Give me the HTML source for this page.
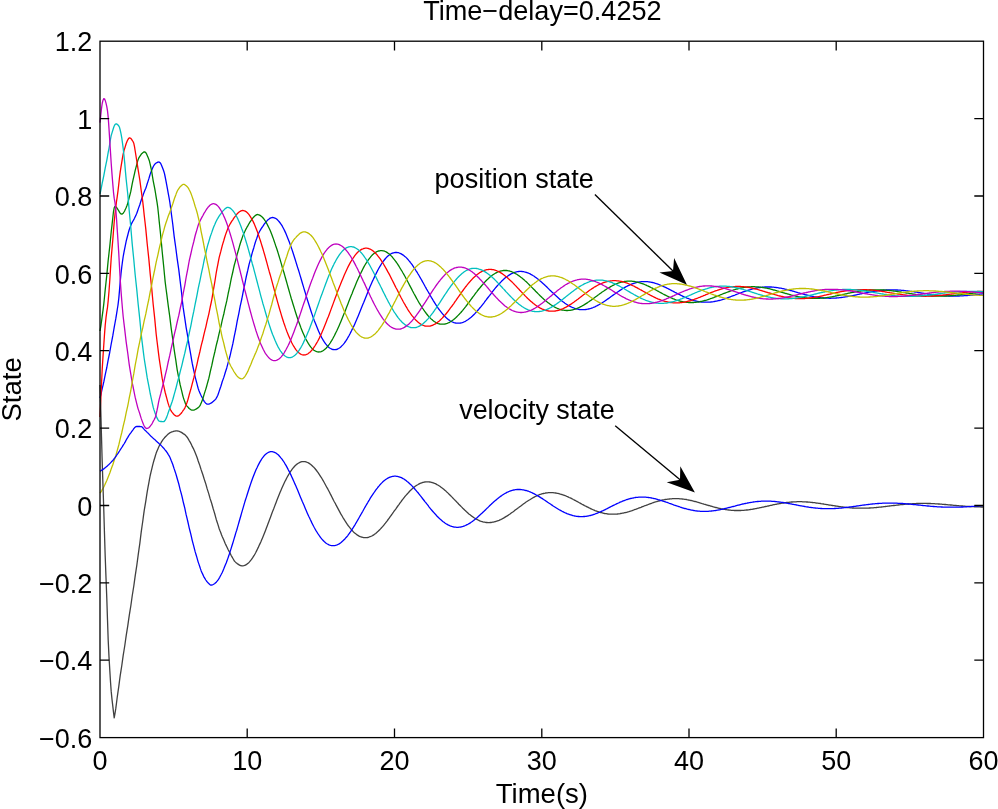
<!DOCTYPE html>
<html><head><meta charset="utf-8"><title>Time-delay=0.4252</title>
<style>
html,body{margin:0;padding:0;background:#fff;}
body{width:998px;height:809px;overflow:hidden;}
svg{display:block;}
text{font-family:"Liberation Sans",sans-serif;font-size:27px;fill:#000;}
</style></head>
<body>
<svg width="998" height="809" viewBox="0 0 998 809">
<rect width="998" height="809" fill="#fff"/>
<g>
<polyline points="100.0,398.0 100.8,395.0 101.5,391.8 102.2,388.6 103.0,385.3 103.8,381.9 104.5,378.4 105.2,374.9 106.0,371.2 106.8,367.5 107.5,363.7 108.2,359.9 109.0,356.0 109.8,352.0 110.5,348.0 111.2,344.0 112.0,339.8 112.8,335.7 113.5,331.5 114.2,327.3 115.0,323.0 115.8,318.7 116.5,314.4 117.2,310.0 118.0,305.0 118.8,298.4 119.5,290.4 120.2,281.8 121.0,273.7 121.8,266.8 122.5,261.4 123.2,256.5 124.0,252.2 124.8,248.2 125.5,244.6 126.2,241.2 127.0,238.0 127.8,235.0 128.5,232.2 129.2,229.7 130.0,227.4 130.8,225.5 131.5,223.8 132.2,222.4 133.0,221.0 133.8,219.7 134.5,218.3 135.2,216.8 136.0,215.1 136.8,213.2 137.5,211.2 138.2,209.1 139.0,206.9 139.8,204.7 140.5,202.4 141.2,200.2 142.0,198.1 142.8,196.0 143.5,193.9 144.2,192.0 145.0,190.1 145.8,188.2 146.5,186.1 147.2,183.8 148.0,181.4 148.8,178.9 149.5,176.5 150.2,174.1 151.0,171.9 151.8,170.0 152.5,168.3 153.2,166.7 154.0,165.3 154.8,164.2 155.5,163.6 156.2,163.0 157.0,162.6 157.8,162.2 158.5,162.0 159.2,162.1 160.0,162.6 160.8,163.7 161.5,165.2 162.2,167.0 163.0,169.0 163.8,171.2 164.5,173.6 165.2,177.0 166.0,181.1 166.8,185.3 167.5,189.2 168.2,193.1 169.0,197.3 169.8,202.0 170.5,207.1 171.2,212.6 172.0,218.5 172.8,224.5 173.5,230.6 174.2,236.6 175.0,242.4 175.8,248.0 176.5,253.5 177.2,258.9 178.0,264.4 178.8,269.9 179.5,275.6 180.2,281.5 181.0,287.8 181.8,294.8 182.5,301.7 183.2,307.7 184.0,313.1 184.8,318.3 185.5,323.1 186.2,327.8 187.0,332.4 187.8,336.9 188.5,341.4 189.2,345.9 190.0,350.4 190.8,354.8 191.5,359.1 192.2,363.2 193.0,367.0 193.8,370.6 194.5,373.9 195.2,377.1 196.0,380.2 196.8,383.1 197.5,385.9 198.2,388.5 199.0,390.8 199.8,392.7 200.5,394.3 201.2,395.8 202.0,397.3 202.8,398.8 203.5,400.1 204.2,401.3 205.0,402.4 205.8,403.2 206.5,403.8 207.2,404.1 208.0,404.2 208.8,404.1 209.5,403.9 210.2,403.5 211.0,403.1 211.8,402.7 212.5,402.1 213.2,401.5 214.0,400.8 214.8,400.1 215.5,399.4 216.2,398.3 217.0,396.9 217.8,395.2 218.5,393.2 219.2,391.1 220.0,388.8 220.8,386.5 221.5,384.2 222.2,381.8 223.0,379.6 223.8,377.4 224.5,375.1 225.2,372.7 226.0,370.2 226.8,367.7 227.5,365.1 228.2,362.4 229.0,359.6 229.8,356.8 230.5,353.8 231.2,350.7 232.0,347.4 232.8,343.9 233.5,340.3 234.2,336.6 235.0,332.8 235.8,329.0 236.5,325.1 237.2,321.2 238.0,317.4 238.8,313.6 239.5,309.8 240.2,306.2 241.0,302.6 241.8,299.0 242.5,295.3 243.2,291.6 244.0,287.9 244.8,284.2 245.5,280.5 246.2,277.0 247.0,273.5 247.8,270.2 248.5,267.0 249.2,263.9 250.0,261.1 250.8,258.4 251.5,255.6 252.2,252.9 253.0,250.3 253.8,247.7 254.5,245.1 255.2,242.7 256.0,240.4 256.8,238.2 257.5,236.1 258.2,234.3 259.0,232.5 259.8,231.0 260.5,229.8 261.2,228.6 262.0,227.5 262.8,226.4 263.5,225.3 264.2,224.2 265.0,223.2 265.8,222.3 266.5,221.4 267.2,220.6 268.0,219.8 268.8,219.2 269.5,218.6 270.2,218.1 271.0,217.8 271.8,217.6 272.5,217.5 272.6,217.5 273.4,217.6 274.2,217.8 275.0,218.1 275.8,218.5 276.6,219.1 277.4,219.8 278.2,220.6 279.0,221.5 279.8,222.5 280.6,223.6 281.5,224.9 282.3,226.2 283.1,227.7 283.9,229.3 284.7,230.9 285.5,232.6 286.3,234.5 287.1,236.4 287.9,238.4 288.7,240.5 289.5,242.6 290.3,244.8 291.1,247.1 291.9,249.4 292.7,251.8 293.5,254.3 294.3,256.7 295.1,259.3 295.9,261.9 296.7,264.5 297.5,267.1 298.4,269.7 299.2,272.4 300.0,275.1 300.8,277.8 301.6,280.5 302.4,283.2 303.2,285.9 304.0,288.6 304.8,291.3 305.6,293.9 306.4,296.6 307.2,299.2 308.0,301.8 308.8,304.3 309.6,306.8 310.4,309.3 311.2,311.7 312.0,314.1 312.8,316.4 313.6,318.7 314.4,320.9 315.3,323.0 316.1,325.1 316.9,327.1 317.7,329.0 318.5,330.9 319.3,332.7 320.1,334.4 320.9,336.0 321.7,337.6 322.5,339.0 323.3,340.4 324.1,341.7 324.9,342.8 325.7,343.9 326.5,344.9 327.3,345.8 328.1,346.7 328.9,347.4 329.7,348.0 330.5,348.5 331.4,348.9 332.2,349.3 333.0,349.5 333.8,349.7 334.6,349.7 335.4,349.7 336.2,349.5 337.0,349.3 337.8,348.9 338.6,348.5 339.4,348.0 340.2,347.4 341.0,346.7 341.8,345.9 342.6,345.1 343.5,344.1 344.3,343.1 345.1,342.0 345.9,340.9 346.7,339.6 347.5,338.3 348.3,336.9 349.1,335.5 349.9,334.0 350.7,332.4 351.5,330.8 352.3,329.1 353.2,327.4 354.0,325.7 354.8,323.9 355.6,322.1 356.4,320.2 357.2,318.3 358.0,316.4 358.8,314.4 359.6,312.5 360.4,310.5 361.2,308.5 362.0,306.5 362.8,304.5 363.7,302.4 364.5,300.4 365.3,298.4 366.1,296.4 366.9,294.4 367.7,292.4 368.5,290.5 369.3,288.6 370.1,286.6 370.9,284.8 371.7,282.9 372.5,281.1 373.4,279.3 374.2,277.6 375.0,275.8 375.8,274.2 376.6,272.6 377.4,271.0 378.2,269.5 379.0,268.0 379.8,266.6 380.6,265.3 381.4,264.0 382.2,262.8 383.0,261.6 383.9,260.5 384.7,259.5 385.5,258.5 386.3,257.6 387.1,256.8 387.9,256.1 388.7,255.4 389.5,254.8 390.3,254.2 391.1,253.7 391.9,253.3 392.7,253.0 393.5,252.8 394.4,252.6 395.2,252.5 396.0,252.4 396.8,252.5 397.6,252.6 398.4,252.7 399.2,253.0 400.0,253.3 400.8,253.6 401.6,254.1 402.4,254.6 403.2,255.1 404.0,255.7 404.8,256.4 405.7,257.1 406.5,257.9 407.3,258.7 408.1,259.6 408.9,260.6 409.7,261.5 410.5,262.6 411.3,263.6 412.1,264.7 412.9,265.9 413.7,267.1 414.5,268.3 415.3,269.5 416.1,270.8 417.0,272.1 417.8,273.5 418.6,274.8 419.4,276.2 420.2,277.6 421.0,279.0 421.8,280.4 422.6,281.9 423.4,283.3 424.2,284.7 425.0,286.2 425.8,287.6 426.6,289.1 427.4,290.5 428.3,292.0 429.1,293.4 429.9,294.8 430.7,296.2 431.5,297.6 432.3,298.9 433.1,300.3 433.9,301.6 434.7,302.9 435.5,304.2 436.3,305.4 437.1,306.6 437.9,307.8 438.7,309.0 439.6,310.1 440.4,311.1 441.2,312.2 442.0,313.2 442.8,314.1 443.6,315.0 444.4,315.9 445.2,316.7 446.0,317.5 446.8,318.2 447.6,318.9 448.4,319.6 449.2,320.1 450.0,320.7 450.8,321.2 451.7,321.6 452.5,322.0 453.3,322.3 454.1,322.6 454.9,322.8 455.7,323.0 456.5,323.1 457.3,323.2 458.1,323.2 458.9,323.2 459.7,323.1 460.5,323.0 461.3,322.8 462.2,322.6 463.0,322.4 463.8,322.0 464.6,321.7 465.4,321.3 466.2,320.8 467.0,320.3 467.8,319.8 468.6,319.2 469.4,318.6 470.2,318.0 471.1,317.3 471.9,316.6 472.7,315.8 473.5,315.0 474.3,314.2 475.1,313.4 475.9,312.5 476.7,311.6 477.5,310.7 478.3,309.8 479.1,308.8 480.0,307.8 480.8,306.9 481.6,305.8 482.4,304.8 483.2,303.8 484.0,302.8 484.8,301.7 485.6,300.6 486.4,299.6 487.2,298.5 488.0,297.5 488.9,296.4 489.7,295.4 490.5,294.3 491.3,293.3 492.1,292.2 492.9,291.2 493.7,290.2 494.5,289.2 495.3,288.2 496.1,287.2 496.9,286.3 497.7,285.4 498.6,284.4 499.4,283.6 500.2,282.7 501.0,281.9 501.8,281.0 502.6,280.3 503.4,279.5 504.2,278.8 505.0,278.1 505.8,277.4 506.6,276.8 507.5,276.2 508.3,275.6 509.1,275.1 509.9,274.6 510.7,274.1 511.5,273.7 512.3,273.3 513.1,272.9 513.9,272.6 514.7,272.3 515.5,272.1 516.4,271.9 517.2,271.7 518.0,271.6 518.8,271.5 519.6,271.4 520.4,271.4 521.2,271.4 522.0,271.5 522.8,271.6 523.6,271.7 524.4,271.9 525.3,272.1 526.1,272.3 526.9,272.5 527.7,272.8 528.5,273.2 529.3,273.5 530.1,273.9 530.9,274.4 531.7,274.8 532.5,275.3 533.3,275.8 534.2,276.3 535.0,276.9 535.8,277.5 536.6,278.1 537.4,278.7 538.2,279.3 539.0,280.0 539.8,280.7 540.6,281.3 541.4,282.1 542.2,282.8 543.0,283.5 543.9,284.3 544.7,285.0 545.5,285.8 546.3,286.5 547.1,287.3 547.9,288.1 548.7,288.9 549.5,289.7 550.3,290.4 551.1,291.2 551.9,292.0 552.8,292.8 553.6,293.5 554.4,294.3 555.2,295.1 556.0,295.8 556.8,296.6 557.6,297.3 558.4,298.0 559.2,298.7 560.0,299.4 560.8,300.1 561.7,300.7 562.5,301.4 563.3,302.0 564.1,302.6 564.9,303.2 565.7,303.7 566.5,304.3 567.3,304.8 568.1,305.3 568.9,305.7 569.7,306.2 570.6,306.6 571.4,307.0 572.2,307.4 573.0,307.7 573.8,308.0 574.6,308.3 575.4,308.6 576.2,308.8 577.0,309.0 577.8,309.2 578.6,309.4 579.4,309.5 580.3,309.6 581.1,309.6 581.9,309.7 582.7,309.7 583.5,309.7 584.3,309.6 585.1,309.6 585.9,309.5 586.7,309.4 587.6,309.2 588.4,309.0 589.2,308.8 590.0,308.6 590.8,308.4 591.6,308.1 592.4,307.8 593.2,307.5 594.1,307.1 594.9,306.8 595.7,306.4 596.5,306.0 597.3,305.6 598.1,305.2 598.9,304.7 599.7,304.2 600.5,303.8 601.4,303.3 602.2,302.8 603.0,302.2 603.8,301.7 604.6,301.2 605.4,300.6 606.2,300.1 607.0,299.5 607.9,298.9 608.7,298.4 609.5,297.8 610.3,297.2 611.1,296.6 611.9,296.0 612.7,295.4 613.5,294.9 614.3,294.3 615.2,293.7 616.0,293.1 616.8,292.6 617.6,292.0 618.4,291.5 619.2,290.9 620.0,290.4 620.8,289.9 621.7,289.3 622.5,288.8 623.3,288.3 624.1,287.9 624.9,287.4 625.7,286.9 626.5,286.5 627.3,286.1 628.1,285.7 629.0,285.3 629.8,284.9 630.6,284.6 631.4,284.2 632.2,283.9 633.0,283.6 633.8,283.3 634.6,283.1 635.5,282.8 636.3,282.6 637.1,282.4 637.9,282.2 638.7,282.1 639.5,281.9 640.3,281.8 641.1,281.7 641.9,281.7 642.8,281.6 643.6,281.6 644.4,281.6 645.2,281.6 646.0,281.6 646.8,281.7 647.6,281.7 648.4,281.8 649.2,281.9 650.0,282.1 650.8,282.2 651.6,282.4 652.4,282.5 653.2,282.7 654.0,282.9 654.8,283.2 655.6,283.4 656.4,283.7 657.2,283.9 658.0,284.2 658.8,284.5 659.6,284.8 660.4,285.2 661.3,285.5 662.1,285.8 662.9,286.2 663.7,286.6 664.5,286.9 665.3,287.3 666.1,287.7 666.9,288.1 667.7,288.5 668.5,288.9 669.3,289.3 670.1,289.7 670.9,290.2 671.7,290.6 672.5,291.0 673.3,291.4 674.1,291.8 674.9,292.3 675.7,292.7 676.5,293.1 677.3,293.5 678.1,293.9 678.9,294.3 679.7,294.7 680.5,295.1 681.3,295.5 682.1,295.9 682.9,296.3 683.7,296.7 684.5,297.0 685.3,297.4 686.1,297.7 687.0,298.1 687.8,298.4 688.6,298.7 689.4,299.0 690.2,299.3 691.0,299.6 691.8,299.8 692.6,300.1 693.4,300.3 694.2,300.6 695.0,300.8 695.8,301.0 696.6,301.2 697.4,301.3 698.2,301.5 699.0,301.6 699.8,301.8 700.6,301.9 701.4,302.0 702.2,302.1 703.0,302.1 703.8,302.2 704.6,302.2 705.4,302.2 706.2,302.2 707.0,302.2 707.8,302.2 708.6,302.2 709.4,302.1 710.2,302.1 711.0,302.0 711.9,301.9 712.7,301.8 713.5,301.7 714.3,301.5 715.1,301.4 715.9,301.2 716.7,301.1 717.5,300.9 718.3,300.7 719.1,300.5 719.9,300.3 720.7,300.1 721.5,299.8 722.3,299.6 723.1,299.3 723.9,299.1 724.7,298.8 725.5,298.5 726.3,298.3 727.1,298.0 727.9,297.7 728.7,297.4 729.5,297.1 730.3,296.8 731.1,296.5 731.9,296.2 732.7,295.9 733.5,295.6 734.3,295.3 735.1,295.0 735.9,294.6 736.7,294.3 737.6,294.0 738.4,293.7 739.2,293.4 740.0,293.1 740.8,292.8 741.6,292.5 742.4,292.2 743.2,291.9 744.0,291.6 744.8,291.3 745.6,291.1 746.4,290.8 747.2,290.5 748.0,290.3 748.8,290.0 749.6,289.8 750.4,289.6 751.2,289.3 752.0,289.1 752.8,288.9 753.6,288.7 754.4,288.5 755.2,288.4 756.0,288.2 756.8,288.0 757.6,287.9 758.4,287.7 759.2,287.6 760.0,287.5 760.8,287.4 761.6,287.3 762.5,287.2 763.3,287.1 764.1,287.1 764.9,287.0 765.7,287.0 766.5,287.0 767.3,287.0 768.1,286.9 768.9,287.0 769.7,287.0 770.5,287.0 771.3,287.0 772.1,287.1 772.9,287.1 773.7,287.2 774.5,287.3 775.3,287.4 776.1,287.5 776.9,287.6 777.7,287.7 778.5,287.8 779.3,288.0 780.1,288.1 780.9,288.2 781.7,288.4 782.5,288.6 783.3,288.7 784.1,288.9 784.9,289.1 785.7,289.3 786.5,289.5 787.3,289.7 788.2,289.9 789.0,290.1 789.8,290.3 790.6,290.5 791.4,290.7 792.2,291.0 793.0,291.2 793.8,291.4 794.6,291.6 795.4,291.9 796.2,292.1 797.0,292.3 797.8,292.6 798.6,292.8 799.4,293.0 800.2,293.3 801.0,293.5 801.8,293.7 802.6,293.9 803.4,294.2 804.2,294.4 805.0,294.6 805.8,294.8 806.6,295.0 807.4,295.2 808.2,295.4 809.0,295.6 809.8,295.8 810.6,296.0 811.4,296.2 812.2,296.3 813.1,296.5 813.9,296.7 814.7,296.8 815.5,297.0 816.3,297.1 817.1,297.2 817.9,297.3 818.7,297.5 819.5,297.6 820.3,297.7 821.1,297.8 821.9,297.9 822.7,297.9 823.5,298.0 824.3,298.1 825.1,298.1 825.9,298.2 826.7,298.2 827.5,298.2 828.3,298.2 829.1,298.3 829.9,298.3 830.7,298.3 831.5,298.2 832.3,298.2 833.1,298.2 833.9,298.2 834.7,298.1 835.5,298.1 836.3,298.0 837.1,297.9 838.0,297.9 838.8,297.8 839.6,297.7 840.4,297.6 841.2,297.5 842.0,297.4 842.8,297.3 843.6,297.2 844.4,297.1 845.2,296.9 846.0,296.8 846.8,296.7 847.6,296.5 848.4,296.4 849.2,296.2 850.0,296.1 850.8,295.9 851.6,295.8 852.4,295.6 853.2,295.5 854.0,295.3 854.8,295.1 855.6,295.0 856.4,294.8 857.2,294.6 858.0,294.4 858.8,294.3 859.6,294.1 860.4,293.9 861.2,293.8 862.0,293.6 862.8,293.4 863.7,293.3 864.5,293.1 865.3,292.9 866.1,292.8 866.9,292.6 867.7,292.4 868.5,292.3 869.3,292.1 870.1,292.0 870.9,291.9 871.7,291.7 872.5,291.6 873.3,291.4 874.1,291.3 874.9,291.2 875.7,291.1 876.5,291.0 877.3,290.9 878.1,290.8 878.9,290.7 879.7,290.6 880.5,290.5 881.3,290.4 882.1,290.3 882.9,290.3 883.7,290.2 884.5,290.1 885.3,290.1 886.1,290.0 886.9,290.0 887.7,290.0 888.6,289.9 889.4,289.9 890.2,289.9 891.0,289.9 891.8,289.9 892.6,289.9 893.4,289.9 894.2,289.9 895.0,289.9 895.8,290.0 896.6,290.0 897.4,290.0 898.2,290.1 899.0,290.1 899.8,290.2 900.6,290.2 901.4,290.3 902.2,290.4 903.0,290.4 903.8,290.5 904.6,290.6 905.4,290.7 906.2,290.8 907.0,290.9 907.8,291.0 908.6,291.1 909.4,291.2 910.2,291.3 911.0,291.4 911.8,291.5 912.6,291.6 913.4,291.7 914.3,291.8 915.1,292.0 915.9,292.1 916.7,292.2 917.5,292.3 918.3,292.5 919.1,292.6 919.9,292.7 920.7,292.8 921.5,293.0 922.3,293.1 923.1,293.2 923.9,293.3 924.7,293.5 925.5,293.6 926.3,293.7 927.1,293.8 927.9,294.0 928.7,294.1 929.5,294.2 930.3,294.3 931.1,294.4 931.9,294.5 932.7,294.6 933.5,294.7 934.3,294.8 935.1,294.9 935.9,295.0 936.7,295.1 937.5,295.2 938.3,295.3 939.2,295.4 940.0,295.4 940.8,295.5 941.6,295.6 942.4,295.6 943.2,295.7 944.0,295.8 944.8,295.8 945.6,295.9 946.4,295.9 947.2,295.9 948.0,296.0 948.8,296.0 949.6,296.0 950.4,296.1 951.2,296.1 952.0,296.1 952.8,296.1 953.6,296.1 954.4,296.1 955.2,296.1 956.0,296.1 956.8,296.1 957.6,296.0 958.4,296.0 959.2,296.0 960.0,295.9 960.8,295.9 961.6,295.9 962.4,295.8 963.2,295.8 964.0,295.7 964.9,295.7 965.7,295.6 966.5,295.6 967.3,295.5 968.1,295.4 968.9,295.4 969.7,295.3 970.5,295.2 971.3,295.1 972.1,295.1 972.9,295.0 973.7,294.9 974.5,294.8 975.3,294.7 976.1,294.6 976.9,294.5 977.7,294.5 978.5,294.4 979.3,294.3 980.1,294.2 980.9,294.1 981.7,294.0 982.5,293.9 983.3,293.8 983.5,293.8" fill="none" stroke="#0000ff" stroke-width="1.3" stroke-linejoin="round"/>
<polyline points="100.0,331.0 100.8,326.4 101.5,321.5 102.2,316.1 103.0,310.3 103.8,303.9 104.5,297.0 105.2,289.9 106.0,282.5 106.8,275.1 107.5,267.6 108.2,260.3 109.0,253.2 109.8,246.1 110.5,239.0 111.2,232.0 112.0,225.1 112.8,217.7 113.5,211.5 114.2,207.8 115.0,206.3 115.8,206.6 116.5,207.4 117.2,208.4 118.0,209.7 118.8,210.9 119.5,212.2 120.2,213.2 121.0,213.9 121.8,214.2 122.5,213.9 123.2,213.2 124.0,212.0 124.8,210.6 125.5,209.1 126.2,207.5 127.0,205.5 127.8,203.1 128.5,200.4 129.2,197.5 130.0,194.6 130.8,191.4 131.5,187.7 132.2,183.9 133.0,180.2 133.8,176.7 134.5,173.6 135.2,170.4 136.0,167.3 136.8,164.3 137.5,161.6 138.2,159.4 139.0,157.6 139.8,156.4 140.5,155.3 141.2,154.3 142.0,153.4 142.8,152.7 143.5,152.2 144.2,151.9 145.0,152.0 145.8,152.7 146.5,153.8 147.2,155.4 148.0,157.3 148.8,159.3 149.5,161.4 150.2,164.4 151.0,168.0 151.8,172.2 152.5,176.5 153.2,180.8 154.0,184.8 154.8,188.9 155.5,193.0 156.2,197.4 157.0,202.2 157.8,207.7 158.5,214.2 159.2,221.4 160.0,229.0 160.8,236.6 161.5,244.1 162.2,251.8 163.0,259.6 163.8,267.5 164.5,275.0 165.2,282.1 166.0,288.5 166.8,294.3 167.5,299.8 168.2,305.4 169.0,311.1 169.8,316.9 170.5,322.7 171.2,328.4 172.0,334.0 172.8,339.5 173.5,344.7 174.2,349.9 175.0,355.1 175.8,360.2 176.5,365.2 177.2,369.8 178.0,374.2 178.8,378.1 179.5,381.5 180.2,384.9 181.0,388.1 181.8,391.3 182.5,394.3 183.2,397.1 184.0,399.6 184.8,401.8 185.5,403.7 186.2,405.1 187.0,406.1 187.8,406.9 188.5,407.7 189.2,408.5 190.0,409.1 190.8,409.6 191.5,410.0 192.2,410.2 193.0,410.2 193.8,410.1 194.5,409.9 195.2,409.5 196.0,409.1 196.8,408.7 197.5,408.1 198.2,407.6 199.0,406.9 199.8,405.9 200.5,404.6 201.2,402.9 202.0,400.9 202.8,398.8 203.5,396.5 204.2,394.1 205.0,391.6 205.8,389.1 206.5,386.7 207.2,384.1 208.0,381.3 208.8,378.4 209.5,375.3 210.2,372.0 211.0,368.7 211.8,365.4 212.5,362.0 213.2,358.6 214.0,355.3 214.8,352.0 215.5,348.8 216.2,345.7 217.0,342.5 217.8,339.4 218.5,336.2 219.2,333.1 220.0,329.9 220.8,326.8 221.5,323.6 222.2,320.4 223.0,317.2 223.8,314.0 224.5,310.7 225.2,307.4 226.0,304.1 226.8,300.7 227.5,297.2 228.2,293.5 229.0,289.9 229.8,286.2 230.5,282.5 231.2,278.9 232.0,275.4 232.8,272.0 233.5,268.7 234.2,265.5 235.0,262.6 235.8,259.8 236.5,257.0 237.2,254.2 238.0,251.5 238.8,248.8 239.5,246.2 240.2,243.7 241.0,241.3 241.8,239.0 242.5,236.9 243.2,234.9 244.0,233.1 244.8,231.5 245.5,230.0 246.2,228.6 247.0,227.2 247.8,225.9 248.5,224.5 249.2,223.3 250.0,222.0 250.8,220.9 251.5,219.8 252.2,218.8 253.0,217.8 253.8,217.0 254.5,216.3 255.2,215.6 256.0,215.1 256.8,214.7 257.2,214.5 258.0,214.6 258.8,214.8 259.6,215.1 260.4,215.6 261.3,216.2 262.1,216.9 262.9,217.8 263.7,218.7 264.5,219.8 265.3,221.0 266.1,222.4 266.9,223.8 267.7,225.4 268.5,227.0 269.4,228.8 270.2,230.6 271.0,232.6 271.8,234.6 272.6,236.7 273.4,238.9 274.2,241.2 275.0,243.6 275.8,246.0 276.7,248.5 277.5,251.0 278.3,253.6 279.1,256.2 279.9,258.9 280.7,261.6 281.5,264.4 282.3,267.2 283.1,270.0 284.0,272.8 284.8,275.6 285.6,278.5 286.4,281.3 287.2,284.2 288.0,287.0 288.8,289.8 289.6,292.7 290.4,295.4 291.2,298.2 292.1,301.0 292.9,303.7 293.7,306.3 294.5,308.9 295.3,311.5 296.1,314.0 296.9,316.5 297.7,318.9 298.5,321.3 299.4,323.5 300.2,325.7 301.0,327.9 301.8,329.9 302.6,331.9 303.4,333.8 304.2,335.6 305.0,337.4 305.8,339.0 306.7,340.6 307.5,342.0 308.3,343.4 309.1,344.7 309.9,345.8 310.7,346.9 311.5,347.9 312.3,348.7 313.1,349.5 313.9,350.2 314.8,350.7 315.6,351.2 316.4,351.5 317.2,351.8 318.0,351.9 318.8,352.0 319.6,351.9 320.4,351.8 321.2,351.6 322.1,351.2 322.9,350.8 323.7,350.3 324.5,349.6 325.3,348.9 326.1,348.2 326.9,347.3 327.7,346.3 328.5,345.3 329.4,344.2 330.2,343.0 331.0,341.7 331.8,340.4 332.6,339.0 333.4,337.5 334.2,336.0 335.0,334.4 335.8,332.7 336.7,331.0 337.5,329.3 338.3,327.5 339.1,325.7 339.9,323.8 340.7,321.9 341.5,319.9 342.3,318.0 343.1,316.0 343.9,314.0 344.8,311.9 345.6,309.9 346.4,307.8 347.2,305.7 348.0,303.7 348.8,301.6 349.6,299.5 350.4,297.5 351.2,295.4 352.1,293.4 352.9,291.3 353.7,289.3 354.5,287.4 355.3,285.4 356.1,283.5 356.9,281.6 357.7,279.7 358.5,277.9 359.4,276.1 360.2,274.4 361.0,272.7 361.8,271.1 362.6,269.5 363.4,267.9 364.2,266.4 365.0,265.0 365.8,263.7 366.7,262.4 367.5,261.1 368.3,259.9 369.1,258.8 369.9,257.8 370.7,256.8 371.5,255.9 372.3,255.0 373.1,254.3 374.0,253.6 374.8,253.0 375.6,252.4 376.4,251.9 377.2,251.5 378.0,251.2 378.8,251.0 379.6,250.8 380.4,250.7 381.2,250.6 382.1,250.7 382.9,250.8 383.7,250.9 384.5,251.2 385.3,251.5 386.1,251.9 386.9,252.4 387.7,252.9 388.5,253.5 389.3,254.1 390.1,254.8 390.9,255.6 391.7,256.4 392.5,257.3 393.3,258.3 394.1,259.3 394.9,260.3 395.7,261.4 396.5,262.5 397.3,263.7 398.1,264.9 398.9,266.2 399.7,267.5 400.5,268.8 401.3,270.2 402.2,271.5 403.0,273.0 403.8,274.4 404.6,275.8 405.4,277.3 406.2,278.8 407.0,280.3 407.8,281.8 408.6,283.3 409.4,284.9 410.2,286.4 411.0,287.9 411.8,289.4 412.6,291.0 413.4,292.5 414.2,294.0 415.0,295.4 415.8,296.9 416.6,298.4 417.4,299.8 418.2,301.2 419.0,302.6 419.8,303.9 420.6,305.2 421.5,306.5 422.3,307.8 423.1,309.0 423.9,310.2 424.7,311.3 425.5,312.4 426.3,313.5 427.1,314.5 427.9,315.5 428.7,316.4 429.5,317.3 430.3,318.1 431.1,318.9 431.9,319.6 432.7,320.3 433.5,320.9 434.3,321.5 435.1,322.0 435.9,322.5 436.7,322.9 437.5,323.3 438.3,323.6 439.1,323.8 439.9,324.0 440.7,324.1 441.6,324.2 442.4,324.2 443.2,324.2 444.0,324.1 444.8,324.0 445.6,323.8 446.4,323.6 447.2,323.4 448.0,323.0 448.8,322.7 449.6,322.3 450.4,321.8 451.2,321.3 452.0,320.8 452.8,320.2 453.6,319.6 454.4,318.9 455.2,318.2 456.0,317.5 456.8,316.7 457.6,315.9 458.4,315.1 459.2,314.3 460.0,313.4 460.9,312.5 461.7,311.5 462.5,310.6 463.3,309.6 464.1,308.6 464.9,307.6 465.7,306.6 466.5,305.5 467.3,304.5 468.1,303.4 468.9,302.4 469.7,301.3 470.5,300.2 471.3,299.1 472.1,298.0 472.9,296.9 473.7,295.9 474.5,294.8 475.3,293.7 476.1,292.6 476.9,291.6 477.7,290.5 478.5,289.5 479.3,288.5 480.2,287.5 481.0,286.5 481.8,285.5 482.6,284.6 483.4,283.7 484.2,282.8 485.0,281.9 485.8,281.0 486.6,280.2 487.4,279.4 488.2,278.7 489.0,277.9 489.8,277.2 490.6,276.5 491.4,275.9 492.2,275.3 493.0,274.7 493.8,274.2 494.6,273.7 495.4,273.2 496.2,272.8 497.0,272.4 497.8,272.0 498.7,271.7 499.5,271.4 500.3,271.1 501.1,270.9 501.9,270.8 502.7,270.6 503.5,270.5 504.3,270.5 505.1,270.5 505.9,270.5 506.7,270.5 507.5,270.6 508.3,270.8 509.1,270.9 509.9,271.2 510.7,271.4 511.5,271.7 512.3,272.0 513.1,272.3 513.9,272.7 514.7,273.1 515.5,273.6 516.3,274.0 517.1,274.5 517.9,275.1 518.7,275.6 519.5,276.2 520.3,276.8 521.1,277.4 522.0,278.1 522.8,278.7 523.6,279.4 524.4,280.1 525.2,280.9 526.0,281.6 526.8,282.3 527.6,283.1 528.4,283.9 529.2,284.7 530.0,285.5 530.8,286.3 531.6,287.1 532.4,287.9 533.2,288.7 534.0,289.5 534.8,290.3 535.6,291.2 536.4,292.0 537.2,292.8 538.0,293.6 538.8,294.4 539.6,295.2 540.4,296.0 541.2,296.7 542.0,297.5 542.8,298.2 543.6,299.0 544.4,299.7 545.2,300.4 546.0,301.1 546.9,301.8 547.7,302.4 548.5,303.0 549.3,303.6 550.1,304.2 550.9,304.8 551.7,305.3 552.5,305.8 553.3,306.3 554.1,306.8 554.9,307.2 555.7,307.7 556.5,308.0 557.3,308.4 558.1,308.7 558.9,309.0 559.7,309.3 560.5,309.5 561.3,309.8 562.1,310.0 562.9,310.1 563.7,310.2 564.5,310.3 565.3,310.4 566.1,310.5 566.9,310.5 567.7,310.5 568.6,310.4 569.4,310.3 570.2,310.3 571.0,310.1 571.8,310.0 572.6,309.8 573.4,309.6 574.2,309.4 575.0,309.1 575.8,308.8 576.7,308.5 577.5,308.2 578.3,307.9 579.1,307.5 579.9,307.1 580.7,306.7 581.5,306.3 582.3,305.8 583.1,305.4 584.0,304.9 584.8,304.4 585.6,303.9 586.4,303.4 587.2,302.9 588.0,302.3 588.8,301.8 589.6,301.2 590.4,300.6 591.3,300.1 592.1,299.5 592.9,298.9 593.7,298.3 594.5,297.7 595.3,297.1 596.1,296.5 596.9,295.9 597.7,295.3 598.6,294.7 599.4,294.1 600.2,293.5 601.0,292.9 601.8,292.3 602.6,291.8 603.4,291.2 604.2,290.7 605.0,290.1 605.8,289.6 606.7,289.0 607.5,288.5 608.3,288.0 609.1,287.5 609.9,287.1 610.7,286.6 611.5,286.2 612.3,285.7 613.1,285.3 614.0,284.9 614.8,284.5 615.6,284.2 616.4,283.8 617.2,283.5 618.0,283.2 618.8,282.9 619.6,282.7 620.4,282.4 621.3,282.2 622.1,282.0 622.9,281.8 623.7,281.7 624.5,281.5 625.3,281.4 626.1,281.3 626.9,281.2 627.7,281.2 628.6,281.2 629.4,281.1 630.2,281.2 631.0,281.2 631.8,281.2 632.6,281.3 633.4,281.4 634.2,281.5 635.0,281.6 635.8,281.8 636.6,282.0 637.4,282.1 638.2,282.3 639.0,282.6 639.8,282.8 640.6,283.1 641.4,283.3 642.2,283.6 643.0,283.9 643.8,284.2 644.6,284.5 645.4,284.9 646.2,285.2 647.0,285.6 647.8,285.9 648.6,286.3 649.4,286.7 650.2,287.1 651.0,287.5 651.9,287.9 652.7,288.3 653.5,288.8 654.3,289.2 655.1,289.6 655.9,290.0 656.7,290.5 657.5,290.9 658.3,291.3 659.1,291.8 659.9,292.2 660.7,292.7 661.5,293.1 662.3,293.5 663.1,294.0 663.9,294.4 664.7,294.8 665.5,295.2 666.3,295.6 667.1,296.0 667.9,296.4 668.7,296.8 669.5,297.2 670.3,297.5 671.1,297.9 671.9,298.2 672.7,298.6 673.5,298.9 674.3,299.2 675.1,299.5 675.9,299.8 676.8,300.1 677.6,300.3 678.4,300.6 679.2,300.8 680.0,301.0 680.8,301.3 681.6,301.4 682.4,301.6 683.2,301.8 684.0,301.9 684.8,302.1 685.6,302.2 686.4,302.3 687.2,302.4 688.0,302.4 688.8,302.5 689.6,302.5 690.4,302.5 691.2,302.6 692.0,302.5 692.8,302.5 693.6,302.5 694.4,302.4 695.2,302.4 696.0,302.3 696.8,302.2 697.6,302.1 698.4,302.0 699.2,301.8 700.0,301.7 700.8,301.5 701.7,301.3 702.5,301.1 703.3,301.0 704.1,300.7 704.9,300.5 705.7,300.3 706.5,300.1 707.3,299.8 708.1,299.5 708.9,299.3 709.7,299.0 710.5,298.7 711.3,298.4 712.1,298.2 712.9,297.9 713.7,297.6 714.5,297.2 715.3,296.9 716.1,296.6 716.9,296.3 717.7,296.0 718.5,295.7 719.3,295.3 720.1,295.0 720.9,294.7 721.7,294.4 722.5,294.0 723.3,293.7 724.1,293.4 724.9,293.1 725.7,292.8 726.5,292.5 727.4,292.2 728.2,291.9 729.0,291.6 729.8,291.3 730.6,291.0 731.4,290.7 732.2,290.4 733.0,290.2 733.8,289.9 734.6,289.7 735.4,289.4 736.2,289.2 737.0,289.0 737.8,288.8 738.6,288.5 739.4,288.4 740.2,288.2 741.0,288.0 741.8,287.8 742.6,287.7 743.4,287.5 744.2,287.4 745.0,287.3 745.8,287.2 746.6,287.1 747.4,287.0 748.2,286.9 749.0,286.9 749.8,286.8 750.6,286.8 751.4,286.7 752.3,286.7 753.1,286.7 753.9,286.7 754.7,286.7 755.5,286.8 756.3,286.8 757.1,286.9 757.9,286.9 758.7,287.0 759.5,287.1 760.3,287.2 761.1,287.3 761.9,287.4 762.7,287.5 763.5,287.6 764.3,287.8 765.1,287.9 765.9,288.1 766.7,288.2 767.5,288.4 768.3,288.6 769.1,288.7 769.9,288.9 770.7,289.1 771.5,289.3 772.3,289.5 773.1,289.8 773.9,290.0 774.7,290.2 775.5,290.4 776.3,290.6 777.1,290.9 778.0,291.1 778.8,291.3 779.6,291.6 780.4,291.8 781.2,292.1 782.0,292.3 782.8,292.5 783.6,292.8 784.4,293.0 785.2,293.3 786.0,293.5 786.8,293.7 787.6,294.0 788.4,294.2 789.2,294.4 790.0,294.6 790.8,294.9 791.6,295.1 792.4,295.3 793.2,295.5 794.0,295.7 794.8,295.9 795.6,296.1 796.4,296.3 797.2,296.4 798.0,296.6 798.8,296.8 799.6,296.9 800.4,297.1 801.2,297.2 802.0,297.4 802.9,297.5 803.7,297.6 804.5,297.7 805.3,297.8 806.1,297.9 806.9,298.0 807.7,298.1 808.5,298.2 809.3,298.2 810.1,298.3 810.9,298.3 811.7,298.4 812.5,298.4 813.3,298.4 814.1,298.4 814.9,298.4 815.7,298.4 816.5,298.4 817.3,298.4 818.1,298.4 818.9,298.3 819.7,298.3 820.5,298.2 821.3,298.2 822.1,298.1 822.9,298.0 823.7,298.0 824.5,297.9 825.3,297.8 826.1,297.7 826.9,297.6 827.7,297.4 828.6,297.3 829.4,297.2 830.2,297.1 831.0,296.9 831.8,296.8 832.6,296.6 833.4,296.5 834.2,296.3 835.0,296.2 835.8,296.0 836.6,295.9 837.4,295.7 838.2,295.5 839.0,295.4 839.8,295.2 840.6,295.0 841.4,294.8 842.2,294.7 843.0,294.5 843.8,294.3 844.6,294.1 845.4,293.9 846.2,293.8 847.0,293.6 847.8,293.4 848.6,293.2 849.4,293.1 850.2,292.9 851.0,292.7 851.8,292.6 852.6,292.4 853.5,292.3 854.3,292.1 855.1,291.9 855.9,291.8 856.7,291.7 857.5,291.5 858.3,291.4 859.1,291.2 859.9,291.1 860.7,291.0 861.5,290.9 862.3,290.8 863.1,290.7 863.9,290.6 864.7,290.5 865.5,290.4 866.3,290.3 867.1,290.2 867.9,290.1 868.7,290.1 869.5,290.0 870.3,290.0 871.1,289.9 871.9,289.9 872.7,289.8 873.5,289.8 874.3,289.8 875.1,289.8 875.9,289.8 876.7,289.8 877.5,289.8 878.4,289.8 879.2,289.8 880.0,289.8 880.8,289.8 881.6,289.9 882.4,289.9 883.2,290.0 884.0,290.0 884.8,290.1 885.6,290.1 886.4,290.2 887.2,290.3 888.0,290.3 888.8,290.4 889.6,290.5 890.4,290.6 891.2,290.7 892.0,290.8 892.8,290.9 893.6,291.0 894.4,291.1 895.2,291.2 896.0,291.3 896.8,291.4 897.6,291.5 898.4,291.7 899.2,291.8 900.0,291.9 900.8,292.0 901.6,292.2 902.4,292.3 903.2,292.4 904.1,292.6 904.9,292.7 905.7,292.8 906.5,293.0 907.3,293.1 908.1,293.2 908.9,293.3 909.7,293.5 910.5,293.6 911.3,293.7 912.1,293.9 912.9,294.0 913.7,294.1 914.5,294.2 915.3,294.3 916.1,294.5 916.9,294.6 917.7,294.7 918.5,294.8 919.3,294.9 920.1,295.0 920.9,295.1 921.7,295.2 922.5,295.3 923.3,295.4 924.1,295.4 924.9,295.5 925.7,295.6 926.5,295.7 927.3,295.7 928.1,295.8 929.0,295.8 929.8,295.9 930.6,295.9 931.4,296.0 932.2,296.0 933.0,296.1 933.8,296.1 934.6,296.1 935.4,296.1 936.2,296.2 937.0,296.2 937.8,296.2 938.6,296.2 939.4,296.2 940.2,296.2 941.0,296.2 941.8,296.1 942.6,296.1 943.4,296.1 944.2,296.1 945.0,296.0 945.8,296.0 946.6,296.0 947.4,295.9 948.2,295.9 949.0,295.8 949.8,295.8 950.6,295.7 951.4,295.6 952.2,295.6 953.0,295.5 953.8,295.4 954.7,295.4 955.5,295.3 956.3,295.2 957.1,295.1 957.9,295.0 958.7,294.9 959.5,294.9 960.3,294.8 961.1,294.7 961.9,294.6 962.7,294.5 963.5,294.4 964.3,294.3 965.1,294.2 965.9,294.1 966.7,294.0 967.5,293.9 968.3,293.8 969.1,293.7 969.9,293.6 970.7,293.5 971.5,293.4 972.3,293.3 973.1,293.2 973.9,293.2 974.7,293.1 975.5,293.0 976.3,292.9 977.1,292.8 977.9,292.7 978.7,292.6 979.6,292.5 980.4,292.5 981.2,292.4 982.0,292.3 982.8,292.2 983.5,292.2" fill="none" stroke="#008000" stroke-width="1.3" stroke-linejoin="round"/>
<polyline points="100.0,417.0 100.8,399.8 101.5,384.0 102.2,369.5 103.0,356.5 103.8,344.8 104.5,334.4 105.2,325.4 106.0,317.7 106.8,311.7 107.5,307.3 108.2,300.6 109.0,291.2 109.8,280.3 110.5,268.9 111.2,258.3 112.0,248.9 112.8,239.7 113.5,230.6 114.2,222.0 115.0,214.1 115.8,207.1 116.5,201.5 117.2,196.8 118.0,190.9 118.8,184.0 119.5,177.5 120.2,172.1 121.0,166.9 121.8,162.1 122.5,157.7 123.2,153.8 124.0,150.6 124.8,148.1 125.5,145.8 126.2,143.5 127.0,141.5 127.8,139.8 128.5,138.6 129.2,138.0 130.0,138.0 130.8,138.4 131.5,139.2 132.2,140.3 133.0,141.5 133.8,143.3 134.5,146.6 135.2,151.0 136.0,156.0 136.8,161.0 137.5,165.6 138.2,170.2 139.0,175.0 139.8,179.9 140.5,185.1 141.2,190.5 142.0,196.1 142.8,202.1 143.5,208.4 144.2,215.1 145.0,222.0 145.8,229.1 146.5,236.4 147.2,243.8 148.0,251.2 148.8,258.6 149.5,266.1 150.2,273.9 151.0,281.6 151.8,289.4 152.5,297.0 153.2,304.5 154.0,311.9 154.8,319.4 155.5,326.9 156.2,334.2 157.0,341.0 157.8,347.4 158.5,353.1 159.2,358.6 160.0,364.0 160.8,369.1 161.5,373.9 162.2,378.4 163.0,382.5 163.8,386.2 164.5,389.4 165.2,392.5 166.0,395.5 166.8,398.4 167.5,401.1 168.2,403.6 169.0,405.9 169.8,407.9 170.5,409.7 171.2,411.0 172.0,412.1 172.8,413.1 173.5,414.0 174.2,414.8 175.0,415.4 175.8,415.9 176.5,416.2 177.2,416.2 178.0,416.0 178.8,415.6 179.5,415.0 180.2,414.3 181.0,413.5 181.8,412.5 182.5,411.5 183.2,410.4 184.0,409.3 184.8,408.1 185.5,406.6 186.2,404.7 187.0,402.5 187.8,400.1 188.5,397.5 189.2,394.8 190.0,392.0 190.8,389.3 191.5,386.6 192.2,383.9 193.0,380.9 193.8,377.9 194.5,374.8 195.2,371.6 196.0,368.4 196.8,365.1 197.5,361.8 198.2,358.5 199.0,355.3 199.8,352.0 200.5,348.8 201.2,345.7 202.0,342.6 202.8,339.5 203.5,336.4 204.2,333.3 205.0,330.2 205.8,327.1 206.5,323.9 207.2,320.7 208.0,317.4 208.8,314.1 209.5,310.7 210.2,307.2 211.0,303.5 211.8,299.6 212.5,295.4 213.2,291.1 214.0,286.6 214.8,282.0 215.5,277.5 216.2,273.0 217.0,268.7 217.8,264.6 218.5,260.8 219.2,257.4 220.0,254.3 220.8,251.4 221.5,248.6 222.2,245.8 223.0,243.1 223.8,240.5 224.5,238.0 225.2,235.7 226.0,233.4 226.8,231.3 227.5,229.4 228.2,227.6 229.0,226.0 229.8,224.5 230.5,223.3 231.2,222.1 232.0,220.9 232.8,219.8 233.5,218.7 234.2,217.6 235.0,216.6 235.8,215.6 236.5,214.6 237.2,213.8 238.0,213.0 238.8,212.3 239.5,211.7 240.2,211.3 241.0,210.9 241.8,210.6 242.5,210.5 242.8,210.5 243.6,210.6 244.4,210.8 245.2,211.1 246.0,211.6 246.8,212.3 247.6,213.0 248.4,213.9 249.2,214.9 250.0,216.1 250.8,217.4 251.6,218.8 252.5,220.3 253.3,221.9 254.1,223.6 254.9,225.5 255.7,227.4 256.5,229.5 257.3,231.6 258.1,233.8 258.9,236.2 259.7,238.6 260.5,241.0 261.3,243.6 262.1,246.2 262.9,248.8 263.7,251.6 264.5,254.3 265.3,257.1 266.1,260.0 266.9,262.9 267.7,265.8 268.5,268.8 269.3,271.7 270.2,274.7 271.0,277.7 271.8,280.7 272.6,283.7 273.4,286.7 274.2,289.6 275.0,292.6 275.8,295.5 276.6,298.4 277.4,301.3 278.2,304.2 279.0,307.0 279.8,309.7 280.6,312.4 281.4,315.1 282.2,317.7 283.0,320.2 283.8,322.7 284.6,325.0 285.4,327.4 286.2,329.6 287.0,331.8 287.9,333.9 288.7,335.9 289.5,337.8 290.3,339.6 291.1,341.3 291.9,343.0 292.7,344.5 293.5,345.9 294.3,347.2 295.1,348.5 295.9,349.6 296.7,350.6 297.5,351.5 298.3,352.3 299.1,353.0 299.9,353.6 300.7,354.1 301.5,354.5 302.3,354.8 303.1,354.9 303.9,355.0 304.7,354.9 305.6,354.8 306.4,354.5 307.2,354.2 308.0,353.7 308.8,353.1 309.6,352.5 310.4,351.8 311.2,350.9 312.0,350.0 312.8,349.0 313.6,347.9 314.4,346.7 315.2,345.5 316.0,344.1 316.9,342.7 317.7,341.3 318.5,339.7 319.3,338.1 320.1,336.4 320.9,334.7 321.7,332.9 322.5,331.1 323.3,329.2 324.1,327.2 324.9,325.3 325.7,323.3 326.5,321.2 327.3,319.1 328.2,317.0 329.0,314.9 329.8,312.8 330.6,310.6 331.4,308.4 332.2,306.3 333.0,304.1 333.8,301.9 334.6,299.7 335.4,297.5 336.2,295.4 337.0,293.2 337.8,291.1 338.6,289.0 339.4,286.9 340.3,284.8 341.1,282.8 341.9,280.8 342.7,278.9 343.5,276.9 344.3,275.1 345.1,273.2 345.9,271.5 346.7,269.7 347.5,268.0 348.3,266.4 349.1,264.9 349.9,263.4 350.7,261.9 351.6,260.5 352.4,259.2 353.2,258.0 354.0,256.8 354.8,255.7 355.6,254.7 356.4,253.7 357.2,252.8 358.0,252.0 358.8,251.3 359.6,250.7 360.4,250.1 361.2,249.6 362.0,249.1 362.9,248.8 363.7,248.5 364.5,248.3 365.3,248.2 366.1,248.2 366.9,248.2 367.7,248.3 368.5,248.5 369.3,248.8 370.1,249.1 370.9,249.5 371.7,250.0 372.6,250.6 373.4,251.2 374.2,251.9 375.0,252.7 375.8,253.5 376.6,254.4 377.4,255.3 378.2,256.3 379.0,257.3 379.8,258.4 380.7,259.6 381.5,260.8 382.3,262.1 383.1,263.3 383.9,264.7 384.7,266.1 385.5,267.5 386.3,268.9 387.1,270.4 387.9,271.9 388.8,273.4 389.6,274.9 390.4,276.5 391.2,278.1 392.0,279.7 392.8,281.3 393.6,282.9 394.4,284.5 395.2,286.1 396.0,287.7 396.9,289.3 397.7,290.9 398.5,292.5 399.3,294.1 400.1,295.7 400.9,297.3 401.7,298.8 402.5,300.3 403.3,301.8 404.1,303.2 405.0,304.7 405.8,306.1 406.6,307.4 407.4,308.8 408.2,310.1 409.0,311.3 409.8,312.5 410.6,313.7 411.4,314.8 412.2,315.9 413.1,316.9 413.9,317.9 414.7,318.9 415.5,319.7 416.3,320.6 417.1,321.3 417.9,322.1 418.7,322.7 419.5,323.3 420.3,323.9 421.2,324.4 422.0,324.8 422.8,325.2 423.6,325.5 424.4,325.8 425.2,326.0 426.0,326.1 426.8,326.2 427.6,326.2 428.4,326.2 429.3,326.1 430.1,326.0 430.9,325.8 431.7,325.5 432.5,325.3 433.3,324.9 434.1,324.5 434.9,324.1 435.7,323.6 436.6,323.0 437.4,322.5 438.2,321.8 439.0,321.2 439.8,320.5 440.6,319.7 441.4,318.9 442.2,318.1 443.0,317.2 443.8,316.3 444.7,315.4 445.5,314.5 446.3,313.5 447.1,312.5 447.9,311.5 448.7,310.4 449.5,309.3 450.3,308.2 451.1,307.1 452.0,306.0 452.8,304.9 453.6,303.8 454.4,302.6 455.2,301.4 456.0,300.3 456.8,299.1 457.6,298.0 458.4,296.8 459.3,295.6 460.1,294.5 460.9,293.4 461.7,292.2 462.5,291.1 463.3,290.0 464.1,288.9 464.9,287.8 465.7,286.7 466.6,285.7 467.4,284.7 468.2,283.7 469.0,282.7 469.8,281.8 470.6,280.8 471.4,280.0 472.2,279.1 473.0,278.3 473.8,277.5 474.7,276.7 475.5,276.0 476.3,275.3 477.1,274.6 477.9,274.0 478.7,273.4 479.5,272.8 480.3,272.3 481.1,271.9 482.0,271.4 482.8,271.0 483.6,270.7 484.4,270.4 485.2,270.1 486.0,269.9 486.8,269.7 487.6,269.6 488.4,269.5 489.3,269.4 490.1,269.4 490.9,269.4 491.7,269.5 492.5,269.6 493.3,269.7 494.1,269.9 494.9,270.1 495.7,270.4 496.5,270.6 497.3,271.0 498.1,271.3 498.9,271.7 499.7,272.2 500.5,272.6 501.3,273.1 502.1,273.6 502.9,274.2 503.7,274.8 504.5,275.4 505.3,276.0 506.1,276.7 506.9,277.3 507.7,278.0 508.5,278.8 509.3,279.5 510.1,280.3 510.9,281.0 511.8,281.8 512.6,282.6 513.4,283.4 514.2,284.3 515.0,285.1 515.8,285.9 516.6,286.8 517.4,287.6 518.2,288.5 519.0,289.3 519.8,290.2 520.6,291.0 521.4,291.9 522.2,292.7 523.0,293.6 523.8,294.4 524.6,295.2 525.4,296.1 526.2,296.9 527.0,297.7 527.8,298.5 528.6,299.2 529.4,300.0 530.2,300.7 531.0,301.4 531.8,302.1 532.6,302.8 533.4,303.5 534.2,304.1 535.0,304.7 535.8,305.3 536.6,305.9 537.5,306.4 538.3,306.9 539.1,307.4 539.9,307.9 540.7,308.3 541.5,308.7 542.3,309.1 543.1,309.4 543.9,309.7 544.7,310.0 545.5,310.3 546.3,310.5 547.1,310.7 547.9,310.9 548.7,311.0 549.5,311.1 550.3,311.2 551.1,311.2 551.9,311.2 552.7,311.2 553.5,311.2 554.3,311.1 555.2,311.0 556.0,310.9 556.8,310.7 557.6,310.5 558.4,310.3 559.2,310.1 560.0,309.8 560.8,309.5 561.6,309.2 562.5,308.9 563.3,308.5 564.1,308.1 564.9,307.7 565.7,307.3 566.5,306.9 567.3,306.4 568.1,305.9 568.9,305.4 569.7,304.9 570.6,304.4 571.4,303.9 572.2,303.3 573.0,302.7 573.8,302.2 574.6,301.6 575.4,301.0 576.2,300.4 577.0,299.8 577.9,299.2 578.7,298.5 579.5,297.9 580.3,297.3 581.1,296.7 581.9,296.1 582.7,295.4 583.5,294.8 584.3,294.2 585.2,293.6 586.0,293.0 586.8,292.4 587.6,291.8 588.4,291.2 589.2,290.6 590.0,290.0 590.8,289.5 591.6,288.9 592.5,288.4 593.3,287.9 594.1,287.3 594.9,286.8 595.7,286.4 596.5,285.9 597.3,285.5 598.1,285.0 598.9,284.6 599.7,284.2 600.6,283.8 601.4,283.5 602.2,283.2 603.0,282.8 603.8,282.5 604.6,282.3 605.4,282.0 606.2,281.8 607.0,281.6 607.9,281.4 608.7,281.2 609.5,281.1 610.3,281.0 611.1,280.9 611.9,280.8 612.7,280.7 613.5,280.7 614.3,280.7 615.1,280.7 616.0,280.7 616.8,280.8 617.6,280.9 618.4,280.9 619.2,281.1 620.0,281.2 620.8,281.4 621.6,281.5 622.4,281.7 623.2,281.9 624.0,282.2 624.8,282.4 625.6,282.7 626.4,282.9 627.2,283.2 628.0,283.5 628.8,283.9 629.6,284.2 630.4,284.5 631.2,284.9 632.0,285.3 632.8,285.7 633.6,286.0 634.4,286.4 635.2,286.9 636.0,287.3 636.8,287.7 637.6,288.1 638.4,288.6 639.2,289.0 640.0,289.5 640.8,289.9 641.7,290.4 642.5,290.8 643.3,291.3 644.1,291.7 644.9,292.2 645.7,292.6 646.5,293.1 647.3,293.5 648.1,294.0 648.9,294.4 649.7,294.8 650.5,295.3 651.3,295.7 652.1,296.1 652.9,296.5 653.7,296.9 654.5,297.3 655.3,297.7 656.1,298.1 656.9,298.4 657.7,298.8 658.5,299.1 659.3,299.4 660.1,299.7 660.9,300.0 661.7,300.3 662.5,300.6 663.3,300.9 664.1,301.1 664.9,301.3 665.7,301.5 666.6,301.7 667.4,301.9 668.2,302.1 669.0,302.2 669.8,302.4 670.6,302.5 671.4,302.6 672.2,302.7 673.0,302.8 673.8,302.8 674.6,302.9 675.4,302.9 676.2,302.9 677.0,302.9 677.8,302.9 678.6,302.8 679.4,302.8 680.2,302.7 681.0,302.6 681.8,302.5 682.6,302.4 683.4,302.3 684.2,302.1 685.0,302.0 685.8,301.8 686.6,301.6 687.4,301.4 688.2,301.2 689.0,301.0 689.8,300.8 690.6,300.6 691.4,300.3 692.3,300.0 693.1,299.8 693.9,299.5 694.7,299.2 695.5,298.9 696.3,298.6 697.1,298.3 697.9,298.0 698.7,297.7 699.5,297.4 700.3,297.1 701.1,296.7 701.9,296.4 702.7,296.1 703.5,295.7 704.3,295.4 705.1,295.1 705.9,294.7 706.7,294.4 707.5,294.1 708.3,293.7 709.1,293.4 709.9,293.1 710.7,292.7 711.5,292.4 712.3,292.1 713.1,291.8 713.9,291.5 714.7,291.2 715.5,290.9 716.3,290.6 717.2,290.3 718.0,290.0 718.8,289.8 719.6,289.5 720.4,289.3 721.2,289.0 722.0,288.8 722.8,288.6 723.6,288.4 724.4,288.2 725.2,288.0 726.0,287.8 726.8,287.6 727.6,287.5 728.4,287.3 729.2,287.2 730.0,287.1 730.8,286.9 731.6,286.8 732.4,286.8 733.2,286.7 734.0,286.6 734.8,286.6 735.6,286.5 736.4,286.5 737.2,286.5 738.0,286.5 738.8,286.5 739.6,286.5 740.4,286.5 741.2,286.6 742.1,286.6 742.9,286.7 743.7,286.7 744.5,286.8 745.3,286.9 746.1,287.0 746.9,287.1 747.7,287.3 748.5,287.4 749.3,287.5 750.1,287.7 750.9,287.9 751.7,288.0 752.5,288.2 753.3,288.4 754.1,288.6 754.9,288.8 755.7,289.0 756.5,289.2 757.3,289.4 758.1,289.6 758.9,289.8 759.7,290.1 760.5,290.3 761.3,290.5 762.1,290.8 762.9,291.0 763.7,291.3 764.5,291.5 765.3,291.8 766.1,292.0 766.9,292.3 767.8,292.5 768.6,292.8 769.4,293.0 770.2,293.2 771.0,293.5 771.8,293.7 772.6,294.0 773.4,294.2 774.2,294.4 775.0,294.7 775.8,294.9 776.6,295.1 777.4,295.3 778.2,295.6 779.0,295.8 779.8,296.0 780.6,296.2 781.4,296.4 782.2,296.5 783.0,296.7 783.8,296.9 784.6,297.1 785.4,297.2 786.2,297.4 787.0,297.5 787.8,297.6 788.6,297.8 789.4,297.9 790.2,298.0 791.0,298.1 791.8,298.2 792.7,298.3 793.5,298.3 794.3,298.4 795.1,298.5 795.9,298.5 796.7,298.6 797.5,298.6 798.3,298.6 799.1,298.6 799.9,298.6 800.7,298.6 801.5,298.6 802.3,298.6 803.1,298.6 803.9,298.5 804.7,298.5 805.5,298.4 806.3,298.4 807.1,298.3 807.9,298.2 808.7,298.1 809.5,298.0 810.3,297.9 811.1,297.8 811.9,297.7 812.7,297.6 813.5,297.5 814.3,297.3 815.1,297.2 815.9,297.1 816.7,296.9 817.5,296.8 818.4,296.6 819.2,296.5 820.0,296.3 820.8,296.1 821.6,296.0 822.4,295.8 823.2,295.6 824.0,295.4 824.8,295.2 825.6,295.1 826.4,294.9 827.2,294.7 828.0,294.5 828.8,294.3 829.6,294.2 830.4,294.0 831.2,293.8 832.0,293.6 832.8,293.4 833.6,293.2 834.4,293.1 835.2,292.9 836.0,292.7 836.8,292.5 837.6,292.4 838.4,292.2 839.2,292.0 840.0,291.9 840.8,291.7 841.6,291.6 842.4,291.4 843.3,291.3 844.1,291.2 844.9,291.0 845.7,290.9 846.5,290.8 847.3,290.7 848.1,290.6 848.9,290.5 849.7,290.4 850.5,290.3 851.3,290.2 852.1,290.1 852.9,290.0 853.7,289.9 854.5,289.9 855.3,289.8 856.1,289.8 856.9,289.7 857.7,289.7 858.5,289.7 859.3,289.7 860.1,289.6 860.9,289.6 861.7,289.6 862.5,289.6 863.3,289.6 864.1,289.7 864.9,289.7 865.7,289.7 866.5,289.7 867.3,289.8 868.1,289.8 869.0,289.9 869.8,289.9 870.6,290.0 871.4,290.1 872.2,290.1 873.0,290.2 873.8,290.3 874.6,290.4 875.4,290.5 876.2,290.6 877.0,290.7 877.8,290.8 878.6,290.9 879.4,291.0 880.2,291.1 881.0,291.2 881.8,291.4 882.6,291.5 883.4,291.6 884.2,291.7 885.0,291.9 885.8,292.0 886.6,292.1 887.4,292.3 888.2,292.4 889.0,292.5 889.8,292.7 890.6,292.8 891.4,292.9 892.2,293.1 893.0,293.2 893.9,293.3 894.7,293.5 895.5,293.6 896.3,293.7 897.1,293.9 897.9,294.0 898.7,294.1 899.5,294.2 900.3,294.4 901.1,294.5 901.9,294.6 902.7,294.7 903.5,294.8 904.3,294.9 905.1,295.0 905.9,295.1 906.7,295.2 907.5,295.3 908.3,295.4 909.1,295.5 909.9,295.6 910.7,295.7 911.5,295.7 912.3,295.8 913.1,295.9 913.9,295.9 914.7,296.0 915.5,296.0 916.3,296.1 917.1,296.1 917.9,296.2 918.8,296.2 919.6,296.2 920.4,296.2 921.2,296.3 922.0,296.3 922.8,296.3 923.6,296.3 924.4,296.3 925.2,296.3 926.0,296.3 926.8,296.2 927.6,296.2 928.4,296.2 929.2,296.2 930.0,296.1 930.8,296.1 931.6,296.1 932.4,296.0 933.2,296.0 934.0,295.9 934.8,295.8 935.6,295.8 936.4,295.7 937.2,295.7 938.0,295.6 938.8,295.5 939.6,295.4 940.4,295.3 941.2,295.3 942.0,295.2 942.8,295.1 943.6,295.0 944.5,294.9 945.3,294.8 946.1,294.7 946.9,294.6 947.7,294.5 948.5,294.4 949.3,294.3 950.1,294.2 950.9,294.1 951.7,294.0 952.5,293.9 953.3,293.8 954.1,293.7 954.9,293.6 955.7,293.5 956.5,293.4 957.3,293.3 958.1,293.2 958.9,293.1 959.7,293.0 960.5,293.0 961.3,292.9 962.1,292.8 962.9,292.7 963.7,292.6 964.5,292.5 965.3,292.4 966.1,292.3 966.9,292.3 967.7,292.2 968.5,292.1 969.4,292.1 970.2,292.0 971.0,291.9 971.8,291.9 972.6,291.8 973.4,291.8 974.2,291.7 975.0,291.7 975.8,291.6 976.6,291.6 977.4,291.5 978.2,291.5 979.0,291.5 979.8,291.4 980.6,291.4 981.4,291.4 982.2,291.4 983.0,291.4 983.5,291.4" fill="none" stroke="#ff0000" stroke-width="1.3" stroke-linejoin="round"/>
<polyline points="100.0,194.0 100.8,190.4 101.5,186.8 102.2,183.2 103.0,179.5 103.8,175.7 104.5,171.9 105.2,168.1 106.0,164.2 106.8,160.3 107.5,156.4 108.2,152.4 109.0,148.3 109.8,143.7 110.5,139.2 111.2,135.5 112.0,132.9 112.8,130.3 113.5,128.0 114.2,126.0 115.0,124.6 115.8,123.9 116.5,123.9 117.2,124.3 118.0,125.0 118.8,126.0 119.5,127.3 120.2,130.0 121.0,133.7 121.8,138.2 122.5,143.1 123.2,148.5 124.0,155.7 124.8,163.9 125.5,172.1 126.2,179.6 127.0,187.0 127.8,194.5 128.5,202.4 129.2,210.5 130.0,218.8 130.8,227.2 131.5,235.6 132.2,243.9 133.0,251.9 133.8,259.8 134.5,267.5 135.2,275.0 136.0,282.5 136.8,289.9 137.5,297.2 138.2,304.5 139.0,311.9 139.8,319.4 140.5,326.8 141.2,334.1 142.0,341.0 142.8,347.4 143.5,353.1 144.2,358.5 145.0,363.7 145.8,368.6 146.5,373.2 147.2,377.7 148.0,381.9 148.8,385.9 149.5,389.7 150.2,393.5 151.0,397.2 151.8,400.8 152.5,404.1 153.2,407.2 154.0,409.9 154.8,412.3 155.5,414.2 156.2,416.1 157.0,417.9 157.8,419.4 158.5,420.6 159.2,421.2 160.0,421.4 160.8,421.5 161.5,421.5 162.2,421.6 163.0,421.6 163.8,421.6 164.5,421.1 165.2,420.1 166.0,418.6 166.8,416.9 167.5,414.9 168.2,412.7 169.0,410.6 169.8,408.4 170.5,406.4 171.2,404.3 172.0,402.0 172.8,399.5 173.5,397.0 174.2,394.4 175.0,391.6 175.8,388.8 176.5,386.0 177.2,383.1 178.0,380.2 178.8,377.3 179.5,374.5 180.2,371.6 181.0,368.6 181.8,365.6 182.5,362.6 183.2,359.5 184.0,356.4 184.8,353.2 185.5,350.0 186.2,346.7 187.0,343.5 187.8,340.1 188.5,336.7 189.2,333.3 190.0,329.7 190.8,326.1 191.5,322.4 192.2,318.7 193.0,314.9 193.8,311.2 194.5,307.5 195.2,303.8 196.0,300.0 196.8,296.2 197.5,292.4 198.2,288.7 199.0,284.9 199.8,281.3 200.5,277.8 201.2,274.3 202.0,270.7 202.8,267.1 203.5,263.5 204.2,260.0 205.0,256.6 205.8,253.3 206.5,250.1 207.2,247.1 208.0,244.2 208.8,241.6 209.5,239.2 210.2,236.8 211.0,234.6 211.8,232.4 212.5,230.3 213.2,228.3 214.0,226.3 214.8,224.5 215.5,222.8 216.2,221.2 217.0,219.7 217.8,218.4 218.5,217.2 219.2,216.0 220.0,214.9 220.8,213.8 221.5,212.8 222.2,211.8 223.0,210.9 223.8,210.1 224.5,209.3 225.2,208.7 226.0,208.1 226.8,207.6 227.3,207.3 228.1,207.4 228.9,207.6 229.7,207.9 230.5,208.4 231.3,209.1 232.1,209.9 233.0,210.8 233.8,211.8 234.6,213.0 235.4,214.3 236.2,215.7 237.0,217.2 237.8,218.9 238.6,220.7 239.4,222.5 240.2,224.5 241.0,226.6 241.8,228.8 242.7,231.1 243.5,233.4 244.3,235.9 245.1,238.4 245.9,241.0 246.7,243.6 247.5,246.3 248.3,249.1 249.1,252.0 249.9,254.8 250.7,257.8 251.5,260.7 252.3,263.7 253.2,266.7 254.0,269.8 254.8,272.8 255.6,275.9 256.4,279.0 257.2,282.0 258.0,285.1 258.8,288.2 259.6,291.2 260.4,294.3 261.2,297.3 262.0,300.2 262.8,303.2 263.7,306.1 264.5,308.9 265.3,311.7 266.1,314.5 266.9,317.2 267.7,319.8 268.5,322.4 269.3,324.9 270.1,327.3 270.9,329.7 271.7,332.0 272.5,334.2 273.4,336.3 274.2,338.3 275.0,340.3 275.8,342.1 276.6,343.9 277.4,345.5 278.2,347.1 279.0,348.5 279.8,349.9 280.6,351.1 281.4,352.2 282.2,353.3 283.0,354.2 283.9,355.0 284.7,355.7 285.5,356.3 286.3,356.8 287.1,357.2 287.9,357.5 288.7,357.6 289.5,357.7 290.3,357.6 291.1,357.5 291.9,357.2 292.7,356.8 293.5,356.3 294.3,355.7 295.2,355.0 296.0,354.3 296.8,353.4 297.6,352.4 298.4,351.3 299.2,350.2 300.0,348.9 300.8,347.6 301.6,346.2 302.4,344.7 303.2,343.1 304.0,341.4 304.8,339.7 305.6,338.0 306.4,336.1 307.2,334.2 308.0,332.3 308.9,330.3 309.7,328.2 310.5,326.1 311.3,324.0 312.1,321.8 312.9,319.6 313.7,317.4 314.5,315.2 315.3,312.9 316.1,310.6 316.9,308.3 317.7,306.0 318.5,303.7 319.3,301.4 320.1,299.1 320.9,296.8 321.8,294.6 322.6,292.3 323.4,290.1 324.2,287.9 325.0,285.7 325.8,283.5 326.6,281.4 327.4,279.3 328.2,277.3 329.0,275.3 329.8,273.4 330.6,271.5 331.4,269.6 332.2,267.8 333.0,266.1 333.8,264.5 334.6,262.8 335.5,261.3 336.3,259.8 337.1,258.4 337.9,257.1 338.7,255.9 339.5,254.7 340.3,253.6 341.1,252.6 341.9,251.6 342.7,250.8 343.5,250.0 344.3,249.3 345.1,248.7 345.9,248.1 346.7,247.7 347.5,247.3 348.3,247.0 349.2,246.8 350.0,246.7 350.8,246.6 351.6,246.7 352.4,246.8 353.2,247.0 354.0,247.2 354.8,247.6 355.6,248.0 356.4,248.5 357.2,249.0 358.0,249.6 358.8,250.3 359.6,251.1 360.4,251.9 361.2,252.7 362.0,253.7 362.8,254.7 363.6,255.7 364.4,256.8 365.2,258.0 366.0,259.2 366.8,260.4 367.6,261.7 368.4,263.0 369.2,264.4 370.0,265.8 370.8,267.2 371.6,268.7 372.4,270.2 373.2,271.7 374.0,273.3 374.8,274.8 375.6,276.4 376.4,278.0 377.2,279.6 378.0,281.3 378.8,282.9 379.7,284.5 380.5,286.2 381.3,287.8 382.1,289.4 382.9,291.1 383.7,292.7 384.5,294.3 385.3,295.9 386.1,297.5 386.9,299.0 387.7,300.5 388.5,302.1 389.3,303.5 390.1,305.0 390.9,306.4 391.7,307.8 392.5,309.2 393.3,310.5 394.1,311.8 394.9,313.0 395.7,314.2 396.5,315.4 397.3,316.5 398.1,317.6 398.9,318.6 399.7,319.6 400.5,320.5 401.3,321.3 402.1,322.2 402.9,322.9 403.7,323.6 404.5,324.3 405.3,324.9 406.1,325.4 406.9,325.9 407.7,326.3 408.5,326.7 409.3,327.0 410.1,327.3 410.9,327.5 411.7,327.6 412.5,327.7 413.3,327.7 414.2,327.7 415.0,327.6 415.8,327.5 416.6,327.3 417.4,327.0 418.2,326.7 419.0,326.3 419.8,325.9 420.6,325.4 421.4,324.9 422.2,324.3 423.0,323.7 423.8,323.0 424.6,322.3 425.4,321.6 426.2,320.8 427.0,319.9 427.8,319.1 428.6,318.1 429.4,317.2 430.2,316.2 431.0,315.2 431.8,314.1 432.6,313.1 433.4,312.0 434.2,310.9 435.0,309.7 435.8,308.6 436.6,307.4 437.4,306.2 438.2,305.0 439.0,303.8 439.8,302.6 440.6,301.3 441.4,300.1 442.2,298.9 443.0,297.7 443.8,296.4 444.6,295.2 445.4,294.0 446.2,292.8 447.0,291.6 447.8,290.4 448.6,289.2 449.4,288.1 450.2,287.0 451.0,285.8 451.9,284.8 452.7,283.7 453.5,282.6 454.3,281.6 455.1,280.6 455.9,279.7 456.7,278.8 457.5,277.9 458.3,277.0 459.1,276.2 459.9,275.4 460.7,274.7 461.5,274.0 462.3,273.3 463.1,272.7 463.9,272.1 464.7,271.5 465.5,271.0 466.3,270.5 467.1,270.1 467.9,269.8 468.7,269.4 469.5,269.1 470.3,268.9 471.1,268.7 471.9,268.5 472.7,268.4 473.5,268.4 474.3,268.3 475.1,268.4 475.9,268.4 476.7,268.5 477.5,268.7 478.3,268.8 479.1,269.1 479.9,269.3 480.7,269.6 481.5,269.9 482.3,270.3 483.1,270.7 483.9,271.1 484.7,271.6 485.5,272.1 486.3,272.6 487.1,273.2 487.9,273.8 488.8,274.4 489.6,275.0 490.4,275.7 491.2,276.4 492.0,277.1 492.8,277.8 493.6,278.6 494.4,279.3 495.2,280.1 496.0,280.9 496.8,281.7 497.6,282.6 498.4,283.4 499.2,284.2 500.0,285.1 500.8,286.0 501.6,286.8 502.4,287.7 503.2,288.6 504.0,289.4 504.8,290.3 505.6,291.2 506.4,292.1 507.2,292.9 508.0,293.8 508.8,294.6 509.6,295.5 510.4,296.3 511.2,297.1 512.0,297.9 512.8,298.7 513.6,299.5 514.4,300.3 515.2,301.0 516.0,301.7 516.8,302.4 517.6,303.1 518.4,303.8 519.2,304.4 520.0,305.0 520.8,305.6 521.6,306.2 522.4,306.8 523.3,307.3 524.1,307.8 524.9,308.2 525.7,308.7 526.5,309.1 527.3,309.4 528.1,309.8 528.9,310.1 529.7,310.4 530.5,310.7 531.3,310.9 532.1,311.1 532.9,311.3 533.7,311.4 534.5,311.5 535.3,311.6 536.1,311.6 536.9,311.6 537.7,311.6 538.5,311.6 539.3,311.5 540.1,311.4 540.9,311.3 541.8,311.1 542.6,310.9 543.4,310.7 544.2,310.4 545.0,310.2 545.8,309.9 546.6,309.5 547.4,309.2 548.2,308.8 549.1,308.4 549.9,308.0 550.7,307.6 551.5,307.1 552.3,306.6 553.1,306.2 553.9,305.6 554.7,305.1 555.5,304.6 556.4,304.0 557.2,303.4 558.0,302.9 558.8,302.3 559.6,301.7 560.4,301.0 561.2,300.4 562.0,299.8 562.8,299.2 563.6,298.5 564.5,297.9 565.3,297.2 566.1,296.6 566.9,295.9 567.7,295.3 568.5,294.7 569.3,294.0 570.1,293.4 570.9,292.7 571.8,292.1 572.6,291.5 573.4,290.9 574.2,290.3 575.0,289.7 575.8,289.1 576.6,288.6 577.4,288.0 578.2,287.5 579.1,286.9 579.9,286.4 580.7,285.9 581.5,285.5 582.3,285.0 583.1,284.6 583.9,284.1 584.7,283.7 585.5,283.3 586.4,283.0 587.2,282.6 588.0,282.3 588.8,282.0 589.6,281.7 590.4,281.4 591.2,281.2 592.0,281.0 592.8,280.8 593.6,280.6 594.5,280.5 595.3,280.3 596.1,280.2 596.9,280.2 597.7,280.1 598.5,280.1 599.3,280.1 600.1,280.1 600.9,280.1 601.7,280.2 602.5,280.2 603.3,280.3 604.1,280.5 604.9,280.6 605.8,280.8 606.6,280.9 607.4,281.1 608.2,281.4 609.0,281.6 609.8,281.9 610.6,282.1 611.4,282.4 612.2,282.7 613.0,283.1 613.8,283.4 614.6,283.7 615.4,284.1 616.2,284.5 617.0,284.9 617.8,285.3 618.6,285.7 619.4,286.1 620.2,286.5 621.0,287.0 621.8,287.4 622.6,287.9 623.4,288.3 624.2,288.8 625.0,289.3 625.8,289.7 626.6,290.2 627.4,290.7 628.2,291.2 629.0,291.6 629.8,292.1 630.6,292.6 631.5,293.1 632.3,293.5 633.1,294.0 633.9,294.5 634.7,294.9 635.5,295.4 636.3,295.8 637.1,296.2 637.9,296.7 638.7,297.1 639.5,297.5 640.3,297.9 641.1,298.3 641.9,298.7 642.7,299.0 643.5,299.4 644.3,299.7 645.1,300.0 645.9,300.4 646.7,300.7 647.5,300.9 648.3,301.2 649.1,301.5 649.9,301.7 650.7,301.9 651.5,302.1 652.3,302.3 653.1,302.5 653.9,302.7 654.7,302.8 655.5,302.9 656.4,303.1 657.2,303.1 658.0,303.2 658.8,303.3 659.6,303.3 660.4,303.3 661.2,303.4 662.0,303.3 662.8,303.3 663.6,303.3 664.4,303.2 665.2,303.2 666.0,303.1 666.8,303.0 667.6,302.8 668.4,302.7 669.2,302.6 670.0,302.4 670.8,302.2 671.6,302.0 672.4,301.8 673.2,301.6 674.0,301.4 674.8,301.1 675.6,300.9 676.4,300.6 677.2,300.4 678.0,300.1 678.8,299.8 679.6,299.5 680.4,299.2 681.2,298.9 682.1,298.6 682.9,298.2 683.7,297.9 684.5,297.6 685.3,297.2 686.1,296.9 686.9,296.5 687.7,296.2 688.5,295.8 689.3,295.5 690.1,295.1 690.9,294.8 691.7,294.4 692.5,294.1 693.3,293.7 694.1,293.4 694.9,293.0 695.7,292.7 696.5,292.4 697.3,292.0 698.1,291.7 698.9,291.4 699.7,291.1 700.5,290.8 701.3,290.5 702.1,290.2 702.9,289.9 703.7,289.6 704.5,289.3 705.3,289.1 706.1,288.8 707.0,288.6 707.8,288.3 708.6,288.1 709.4,287.9 710.2,287.7 711.0,287.5 711.8,287.3 712.6,287.2 713.4,287.0 714.2,286.9 715.0,286.7 715.8,286.6 716.6,286.5 717.4,286.4 718.2,286.3 719.0,286.3 719.8,286.2 720.6,286.2 721.4,286.1 722.2,286.1 723.0,286.1 723.8,286.1 724.6,286.1 725.4,286.2 726.2,286.2 727.0,286.3 727.8,286.3 728.6,286.4 729.4,286.5 730.2,286.6 731.0,286.7 731.8,286.8 732.7,287.0 733.5,287.1 734.3,287.3 735.1,287.4 735.9,287.6 736.7,287.8 737.5,287.9 738.3,288.1 739.1,288.3 739.9,288.5 740.7,288.8 741.5,289.0 742.3,289.2 743.1,289.4 743.9,289.7 744.7,289.9 745.5,290.2 746.3,290.4 747.1,290.7 747.9,290.9 748.7,291.2 749.5,291.4 750.3,291.7 751.1,291.9 751.9,292.2 752.7,292.5 753.5,292.7 754.3,293.0 755.1,293.2 755.9,293.5 756.7,293.7 757.6,294.0 758.4,294.3 759.2,294.5 760.0,294.7 760.8,295.0 761.6,295.2 762.4,295.4 763.2,295.7 764.0,295.9 764.8,296.1 765.6,296.3 766.4,296.5 767.2,296.7 768.0,296.9 768.8,297.1 769.6,297.2 770.4,297.4 771.2,297.6 772.0,297.7 772.8,297.8 773.6,298.0 774.4,298.1 775.2,298.2 776.0,298.3 776.8,298.4 777.6,298.5 778.4,298.6 779.2,298.7 780.0,298.7 780.8,298.8 781.6,298.8 782.5,298.8 783.3,298.9 784.1,298.9 784.9,298.9 785.7,298.9 786.5,298.9 787.3,298.8 788.1,298.8 788.9,298.8 789.7,298.7 790.5,298.7 791.3,298.6 792.1,298.5 792.9,298.4 793.7,298.3 794.5,298.3 795.3,298.1 796.1,298.0 796.9,297.9 797.7,297.8 798.5,297.7 799.3,297.5 800.1,297.4 800.9,297.2 801.7,297.1 802.5,296.9 803.3,296.8 804.1,296.6 804.9,296.4 805.7,296.3 806.5,296.1 807.3,295.9 808.2,295.7 809.0,295.5 809.8,295.3 810.6,295.1 811.4,295.0 812.2,294.8 813.0,294.6 813.8,294.4 814.6,294.2 815.4,294.0 816.2,293.8 817.0,293.6 817.8,293.4 818.6,293.2 819.4,293.0 820.2,292.9 821.0,292.7 821.8,292.5 822.6,292.3 823.4,292.1 824.2,292.0 825.0,291.8 825.8,291.7 826.6,291.5 827.4,291.3 828.2,291.2 829.0,291.1 829.8,290.9 830.6,290.8 831.4,290.7 832.2,290.5 833.1,290.4 833.9,290.3 834.7,290.2 835.5,290.1 836.3,290.0 837.1,289.9 837.9,289.8 838.7,289.8 839.5,289.7 840.3,289.7 841.1,289.6 841.9,289.6 842.7,289.5 843.5,289.5 844.3,289.5 845.1,289.5 845.9,289.4 846.7,289.4 847.5,289.4 848.3,289.5 849.1,289.5 849.9,289.5 850.7,289.5 851.5,289.6 852.3,289.6 853.1,289.6 853.9,289.7 854.7,289.8 855.5,289.8 856.3,289.9 857.1,290.0 857.9,290.1 858.8,290.1 859.6,290.2 860.4,290.3 861.2,290.4 862.0,290.5 862.8,290.6 863.6,290.8 864.4,290.9 865.2,291.0 866.0,291.1 866.8,291.3 867.6,291.4 868.4,291.5 869.2,291.6 870.0,291.8 870.8,291.9 871.6,292.1 872.4,292.2 873.2,292.3 874.0,292.5 874.8,292.6 875.6,292.8 876.4,292.9 877.2,293.1 878.0,293.2 878.8,293.3 879.6,293.5 880.4,293.6 881.2,293.8 882.0,293.9 882.8,294.0 883.7,294.2 884.5,294.3 885.3,294.4 886.1,294.5 886.9,294.7 887.7,294.8 888.5,294.9 889.3,295.0 890.1,295.1 890.9,295.2 891.7,295.3 892.5,295.4 893.3,295.5 894.1,295.6 894.9,295.7 895.7,295.8 896.5,295.9 897.3,295.9 898.1,296.0 898.9,296.1 899.7,296.1 900.5,296.2 901.3,296.2 902.1,296.3 902.9,296.3 903.7,296.3 904.5,296.4 905.3,296.4 906.1,296.4 906.9,296.4 907.7,296.4 908.5,296.4 909.4,296.4 910.2,296.4 911.0,296.4 911.8,296.4 912.6,296.4 913.4,296.3 914.2,296.3 915.0,296.3 915.8,296.2 916.6,296.2 917.4,296.1 918.2,296.1 919.0,296.0 919.8,296.0 920.6,295.9 921.4,295.8 922.2,295.8 923.0,295.7 923.8,295.6 924.6,295.5 925.4,295.4 926.2,295.4 927.0,295.3 927.8,295.2 928.6,295.1 929.4,295.0 930.2,294.9 931.0,294.8 931.8,294.7 932.6,294.6 933.4,294.5 934.3,294.4 935.1,294.3 935.9,294.2 936.7,294.1 937.5,294.0 938.3,293.9 939.1,293.7 939.9,293.6 940.7,293.5 941.5,293.4 942.3,293.3 943.1,293.2 943.9,293.1 944.7,293.0 945.5,292.9 946.3,292.8 947.1,292.7 947.9,292.6 948.7,292.6 949.5,292.5 950.3,292.4 951.1,292.3 951.9,292.2 952.7,292.1 953.5,292.1 954.3,292.0 955.1,291.9 955.9,291.9 956.7,291.8 957.5,291.7 958.3,291.7 959.2,291.6 960.0,291.6 960.8,291.5 961.6,291.5 962.4,291.4 963.2,291.4 964.0,291.4 964.8,291.3 965.6,291.3 966.4,291.3 967.2,291.3 968.0,291.3 968.8,291.3 969.6,291.3 970.4,291.3 971.2,291.3 972.0,291.3 972.8,291.3 973.6,291.3 974.4,291.3 975.2,291.3 976.0,291.3 976.8,291.4 977.6,291.4 978.4,291.4 979.2,291.5 980.0,291.5 980.8,291.5 981.6,291.6 982.4,291.6 983.2,291.7 983.5,291.7" fill="none" stroke="#00bfbf" stroke-width="1.3" stroke-linejoin="round"/>
<polyline points="100.0,122.6 100.8,114.9 101.5,108.5 102.2,103.5 103.0,100.2 103.8,98.6 104.5,98.8 105.2,100.4 106.0,103.1 106.8,106.7 107.5,110.9 108.2,117.1 109.0,128.6 109.8,141.4 110.5,152.2 111.2,163.3 112.0,174.1 112.8,184.0 113.5,192.3 114.2,198.2 115.0,202.7 115.8,209.3 116.5,218.3 117.2,229.1 118.0,241.1 118.8,253.9 119.5,266.8 120.2,279.4 121.0,290.9 121.8,301.0 122.5,309.2 123.2,316.7 124.0,323.6 124.8,330.1 125.5,336.2 126.2,342.1 127.0,347.8 127.8,353.5 128.5,359.0 129.2,364.3 130.0,369.4 130.8,374.1 131.5,378.5 132.2,382.6 133.0,386.5 133.8,390.3 134.5,394.0 135.2,397.4 136.0,400.7 136.8,403.8 137.5,406.6 138.2,409.1 139.0,411.4 139.8,413.8 140.5,416.1 141.2,418.4 142.0,420.6 142.8,422.7 143.5,424.5 144.2,426.0 145.0,427.3 145.8,428.1 146.5,428.5 147.2,428.4 148.0,428.2 148.8,427.7 149.5,427.0 150.2,426.2 151.0,425.2 151.8,424.1 152.5,422.8 153.2,421.4 154.0,420.0 154.8,418.4 155.5,416.7 156.2,413.9 157.0,410.4 157.8,406.5 158.5,402.7 159.2,399.4 160.0,396.3 160.8,393.4 161.5,390.5 162.2,387.6 163.0,384.7 163.8,381.6 164.5,378.5 165.2,375.3 166.0,372.1 166.8,368.8 167.5,365.4 168.2,362.0 169.0,358.6 169.8,355.2 170.5,351.8 171.2,348.4 172.0,345.0 172.8,341.6 173.5,338.3 174.2,335.0 175.0,331.7 175.8,328.5 176.5,325.2 177.2,322.0 178.0,318.7 178.8,315.4 179.5,312.0 180.2,308.5 181.0,305.0 181.8,301.3 182.5,297.5 183.2,293.5 184.0,289.4 184.8,285.3 185.5,281.1 186.2,277.0 187.0,272.8 187.8,268.8 188.5,264.8 189.2,261.0 190.0,257.4 190.8,254.0 191.5,250.8 192.2,247.7 193.0,244.6 193.8,241.5 194.5,238.5 195.2,235.5 196.0,232.7 196.8,230.1 197.5,227.6 198.2,225.3 199.0,223.3 199.8,221.5 200.5,220.0 201.2,218.6 202.0,217.1 202.8,215.7 203.5,214.4 204.2,213.0 205.0,211.8 205.8,210.5 206.5,209.4 207.2,208.3 208.0,207.3 208.8,206.5 209.5,205.7 210.2,205.0 211.0,204.5 211.8,204.1 212.5,203.8 213.2,203.7 213.4,203.7 214.2,203.8 215.0,204.0 215.8,204.4 216.6,204.9 217.4,205.6 218.2,206.4 219.0,207.4 219.8,208.5 220.6,209.8 221.4,211.2 222.2,212.7 223.0,214.3 223.8,216.1 224.7,218.0 225.5,220.0 226.3,222.1 227.1,224.3 227.9,226.6 228.7,229.1 229.5,231.6 230.3,234.2 231.1,236.9 231.9,239.6 232.7,242.4 233.5,245.3 234.3,248.3 235.1,251.3 235.9,254.4 236.7,257.5 237.5,260.6 238.3,263.8 239.1,267.0 239.9,270.2 240.7,273.5 241.5,276.7 242.3,280.0 243.1,283.2 243.9,286.4 244.7,289.7 245.6,292.9 246.4,296.1 247.2,299.2 248.0,302.4 248.8,305.4 249.6,308.5 250.4,311.5 251.2,314.4 252.0,317.3 252.8,320.1 253.6,322.9 254.4,325.5 255.2,328.1 256.0,330.7 256.8,333.1 257.6,335.5 258.4,337.7 259.2,339.9 260.0,342.0 260.8,344.0 261.6,345.8 262.4,347.6 263.2,349.3 264.0,350.8 264.8,352.3 265.6,353.6 266.5,354.8 267.3,355.9 268.1,356.9 268.9,357.8 269.7,358.6 270.5,359.2 271.3,359.7 272.1,360.1 272.9,360.4 273.7,360.6 274.5,360.7 275.3,360.6 276.1,360.4 276.9,360.1 277.7,359.7 278.5,359.2 279.4,358.6 280.2,357.9 281.0,357.1 281.8,356.1 282.6,355.1 283.4,354.0 284.2,352.8 285.0,351.4 285.8,350.0 286.6,348.5 287.4,347.0 288.3,345.3 289.1,343.6 289.9,341.8 290.7,339.9 291.5,338.0 292.3,336.0 293.1,334.0 293.9,331.9 294.7,329.7 295.5,327.5 296.4,325.3 297.2,323.0 298.0,320.7 298.8,318.3 299.6,316.0 300.4,313.6 301.2,311.2 302.0,308.8 302.8,306.4 303.6,304.0 304.5,301.6 305.3,299.2 306.1,296.8 306.9,294.4 307.7,292.0 308.5,289.7 309.3,287.3 310.1,285.0 310.9,282.8 311.7,280.6 312.6,278.4 313.4,276.2 314.2,274.1 315.0,272.1 315.8,270.1 316.6,268.2 317.4,266.3 318.2,264.5 319.0,262.7 319.8,261.1 320.7,259.4 321.5,257.9 322.3,256.4 323.1,255.0 323.9,253.7 324.7,252.5 325.5,251.3 326.3,250.3 327.1,249.3 327.9,248.4 328.8,247.6 329.6,246.8 330.4,246.2 331.2,245.6 332.0,245.1 332.8,244.7 333.6,244.4 334.4,244.2 335.2,244.1 336.0,244.0 336.8,244.1 337.6,244.2 338.5,244.4 339.3,244.7 340.1,245.1 340.9,245.5 341.7,246.0 342.5,246.6 343.3,247.3 344.1,248.0 344.9,248.8 345.7,249.7 346.5,250.6 347.3,251.6 348.1,252.7 348.9,253.8 349.7,255.0 350.5,256.2 351.3,257.5 352.1,258.8 352.9,260.2 353.7,261.6 354.5,263.1 355.3,264.6 356.1,266.2 356.9,267.7 357.7,269.3 358.5,271.0 359.3,272.6 360.1,274.3 360.9,276.0 361.7,277.7 362.5,279.4 363.3,281.2 364.2,282.9 365.0,284.6 365.8,286.4 366.6,288.1 367.4,289.9 368.2,291.6 369.0,293.3 369.8,295.0 370.6,296.7 371.4,298.3 372.2,300.0 373.0,301.6 373.8,303.2 374.6,304.8 375.4,306.3 376.2,307.8 377.0,309.2 377.8,310.7 378.6,312.0 379.4,313.4 380.2,314.7 381.0,315.9 381.8,317.1 382.6,318.3 383.4,319.4 384.2,320.4 385.0,321.4 385.8,322.3 386.6,323.2 387.4,324.0 388.2,324.8 389.1,325.5 389.9,326.2 390.7,326.7 391.5,327.3 392.3,327.7 393.1,328.1 393.9,328.5 394.7,328.7 395.5,329.0 396.3,329.1 397.1,329.2 397.9,329.2 398.7,329.2 399.5,329.1 400.3,329.0 401.1,328.8 401.9,328.5 402.7,328.2 403.5,327.8 404.3,327.4 405.1,326.9 405.9,326.4 406.7,325.8 407.5,325.1 408.4,324.4 409.2,323.7 410.0,322.9 410.8,322.1 411.6,321.3 412.4,320.4 413.2,319.4 414.0,318.5 414.8,317.5 415.6,316.4 416.4,315.3 417.2,314.2 418.0,313.1 418.8,312.0 419.6,310.8 420.4,309.6 421.2,308.4 422.0,307.2 422.8,305.9 423.6,304.7 424.5,303.4 425.3,302.2 426.1,300.9 426.9,299.6 427.7,298.4 428.5,297.1 429.3,295.8 430.1,294.6 430.9,293.3 431.7,292.1 432.5,290.9 433.3,289.7 434.1,288.5 434.9,287.3 435.7,286.1 436.5,285.0 437.3,283.9 438.1,282.8 438.9,281.7 439.8,280.7 440.6,279.7 441.4,278.7 442.2,277.8 443.0,276.8 443.8,276.0 444.6,275.1 445.4,274.3 446.2,273.6 447.0,272.8 447.8,272.2 448.6,271.5 449.4,270.9 450.2,270.4 451.0,269.9 451.8,269.4 452.6,269.0 453.4,268.6 454.2,268.2 455.0,267.9 455.9,267.7 456.7,267.5 457.5,267.3 458.3,267.2 459.1,267.2 459.9,267.1 460.7,267.2 461.5,267.2 462.3,267.3 463.1,267.5 463.9,267.7 464.7,267.9 465.5,268.2 466.3,268.5 467.1,268.9 467.9,269.3 468.7,269.7 469.6,270.2 470.4,270.7 471.2,271.3 472.0,271.8 472.8,272.5 473.6,273.1 474.4,273.8 475.2,274.5 476.0,275.2 476.8,275.9 477.6,276.7 478.4,277.5 479.2,278.3 480.0,279.2 480.8,280.0 481.6,280.9 482.4,281.8 483.3,282.7 484.1,283.6 484.9,284.5 485.7,285.4 486.5,286.4 487.3,287.3 488.1,288.2 488.9,289.2 489.7,290.1 490.5,291.1 491.3,292.0 492.1,292.9 492.9,293.8 493.7,294.7 494.5,295.6 495.3,296.5 496.1,297.4 497.0,298.3 497.8,299.1 498.6,300.0 499.4,300.8 500.2,301.6 501.0,302.3 501.8,303.1 502.6,303.8 503.4,304.5 504.2,305.2 505.0,305.9 505.8,306.5 506.6,307.1 507.4,307.7 508.2,308.2 509.0,308.7 509.9,309.2 510.7,309.6 511.5,310.1 512.3,310.5 513.1,310.8 513.9,311.1 514.7,311.4 515.5,311.7 516.3,311.9 517.1,312.1 517.9,312.2 518.7,312.3 519.5,312.4 520.3,312.5 521.1,312.5 521.9,312.5 522.8,312.4 523.6,312.3 524.4,312.2 525.2,312.1 526.0,311.9 526.8,311.7 527.6,311.5 528.4,311.2 529.2,310.9 530.0,310.6 530.8,310.3 531.7,309.9 532.5,309.5 533.3,309.1 534.1,308.7 534.9,308.2 535.7,307.7 536.5,307.2 537.3,306.7 538.1,306.2 538.9,305.6 539.7,305.0 540.5,304.4 541.4,303.8 542.2,303.2 543.0,302.6 543.8,301.9 544.6,301.3 545.4,300.6 546.2,300.0 547.0,299.3 547.8,298.6 548.6,298.0 549.4,297.3 550.3,296.6 551.1,295.9 551.9,295.2 552.7,294.5 553.5,293.9 554.3,293.2 555.1,292.5 555.9,291.9 556.7,291.2 557.5,290.6 558.3,289.9 559.2,289.3 560.0,288.7 560.8,288.1 561.6,287.5 562.4,287.0 563.2,286.4 564.0,285.9 564.8,285.3 565.6,284.8 566.4,284.3 567.2,283.9 568.1,283.4 568.9,283.0 569.7,282.6 570.5,282.2 571.3,281.8 572.1,281.5 572.9,281.2 573.7,280.9 574.5,280.6 575.3,280.3 576.1,280.1 577.0,279.9 577.8,279.7 578.6,279.6 579.4,279.4 580.2,279.3 581.0,279.2 581.8,279.2 582.6,279.1 583.4,279.1 584.2,279.1 585.0,279.2 585.9,279.2 586.7,279.3 587.5,279.4 588.3,279.6 589.1,279.7 589.9,279.9 590.7,280.1 591.5,280.3 592.3,280.5 593.2,280.8 594.0,281.0 594.8,281.3 595.6,281.6 596.4,282.0 597.2,282.3 598.0,282.6 598.8,283.0 599.6,283.4 600.4,283.8 601.3,284.2 602.1,284.6 602.9,285.1 603.7,285.5 604.5,286.0 605.3,286.4 606.1,286.9 606.9,287.4 607.7,287.9 608.6,288.4 609.4,288.8 610.2,289.3 611.0,289.8 611.8,290.3 612.6,290.8 613.4,291.4 614.2,291.9 615.0,292.4 615.9,292.9 616.7,293.3 617.5,293.8 618.3,294.3 619.1,294.8 619.9,295.3 620.7,295.7 621.5,296.2 622.3,296.7 623.2,297.1 624.0,297.5 624.8,297.9 625.6,298.4 626.4,298.8 627.2,299.1 628.0,299.5 628.8,299.9 629.6,300.2 630.4,300.5 631.3,300.9 632.1,301.2 632.9,301.4 633.7,301.7 634.5,302.0 635.3,302.2 636.1,302.4 636.9,302.6 637.7,302.8 638.6,303.0 639.4,303.1 640.2,303.3 641.0,303.4 641.8,303.5 642.6,303.6 643.4,303.6 644.2,303.7 645.0,303.7 645.9,303.7 646.7,303.7 647.5,303.7 648.3,303.6 649.1,303.6 649.9,303.5 650.7,303.4 651.5,303.3 652.3,303.2 653.1,303.0 653.9,302.9 654.7,302.7 655.5,302.5 656.3,302.3 657.1,302.1 657.9,301.9 658.7,301.7 659.5,301.4 660.3,301.2 661.1,300.9 661.9,300.6 662.7,300.3 663.5,300.0 664.3,299.7 665.1,299.4 665.9,299.1 666.7,298.7 667.5,298.4 668.3,298.1 669.1,297.7 670.0,297.4 670.8,297.0 671.6,296.7 672.4,296.3 673.2,295.9 674.0,295.6 674.8,295.2 675.6,294.8 676.4,294.5 677.2,294.1 678.0,293.8 678.8,293.4 679.6,293.0 680.4,292.7 681.2,292.3 682.0,292.0 682.8,291.7 683.6,291.3 684.4,291.0 685.2,290.7 686.0,290.4 686.8,290.1 687.6,289.8 688.4,289.5 689.2,289.2 690.0,288.9 690.8,288.7 691.6,288.4 692.4,288.2 693.2,287.9 694.0,287.7 694.8,287.5 695.7,287.3 696.5,287.1 697.3,287.0 698.1,286.8 698.9,286.6 699.7,286.5 700.5,286.4 701.3,286.3 702.1,286.2 702.9,286.1 703.7,286.0 704.5,286.0 705.3,285.9 706.1,285.9 706.9,285.9 707.7,285.9 708.5,285.9 709.3,285.9 710.1,285.9 710.9,286.0 711.7,286.0 712.5,286.1 713.3,286.2 714.1,286.3 714.9,286.4 715.7,286.5 716.5,286.6 717.3,286.7 718.1,286.9 718.9,287.0 719.7,287.2 720.6,287.4 721.4,287.6 722.2,287.8 723.0,287.9 723.8,288.2 724.6,288.4 725.4,288.6 726.2,288.8 727.0,289.1 727.8,289.3 728.6,289.5 729.4,289.8 730.2,290.0 731.0,290.3 731.8,290.6 732.6,290.8 733.4,291.1 734.2,291.3 735.0,291.6 735.8,291.9 736.6,292.2 737.4,292.4 738.2,292.7 739.0,293.0 739.8,293.2 740.6,293.5 741.4,293.8 742.2,294.0 743.0,294.3 743.8,294.5 744.6,294.8 745.5,295.0 746.3,295.3 747.1,295.5 747.9,295.7 748.7,296.0 749.5,296.2 750.3,296.4 751.1,296.6 751.9,296.8 752.7,297.0 753.5,297.2 754.3,297.4 755.1,297.5 755.9,297.7 756.7,297.9 757.5,298.0 758.3,298.1 759.1,298.3 759.9,298.4 760.7,298.5 761.5,298.6 762.3,298.7 763.1,298.8 763.9,298.8 764.7,298.9 765.5,298.9 766.3,299.0 767.1,299.0 767.9,299.0 768.7,299.1 769.5,299.1 770.3,299.1 771.2,299.0 772.0,299.0 772.8,299.0 773.6,298.9 774.4,298.9 775.2,298.8 776.0,298.8 776.8,298.7 777.6,298.6 778.4,298.5 779.2,298.4 780.0,298.3 780.8,298.2 781.6,298.1 782.4,297.9 783.2,297.8 784.0,297.7 784.8,297.5 785.6,297.4 786.4,297.2 787.2,297.0 788.0,296.9 788.8,296.7 789.6,296.5 790.4,296.4 791.2,296.2 792.0,296.0 792.8,295.8 793.6,295.6 794.4,295.4 795.2,295.2 796.1,295.0 796.9,294.8 797.7,294.6 798.5,294.4 799.3,294.2 800.1,294.0 800.9,293.8 801.7,293.6 802.5,293.4 803.3,293.2 804.1,293.0 804.9,292.8 805.7,292.7 806.5,292.5 807.3,292.3 808.1,292.1 808.9,291.9 809.7,291.8 810.5,291.6 811.3,291.4 812.1,291.3 812.9,291.1 813.7,291.0 814.5,290.8 815.3,290.7 816.1,290.6 816.9,290.4 817.7,290.3 818.5,290.2 819.3,290.1 820.1,290.0 820.9,289.9 821.8,289.8 822.6,289.7 823.4,289.6 824.2,289.6 825.0,289.5 825.8,289.5 826.6,289.4 827.4,289.4 828.2,289.4 829.0,289.3 829.8,289.3 830.6,289.3 831.4,289.3 832.2,289.3 833.0,289.3 833.8,289.3 834.6,289.4 835.4,289.4 836.2,289.4 837.0,289.5 837.8,289.5 838.6,289.6 839.4,289.6 840.2,289.7 841.0,289.8 841.8,289.9 842.6,289.9 843.4,290.0 844.2,290.1 845.0,290.2 845.8,290.3 846.7,290.4 847.5,290.6 848.3,290.7 849.1,290.8 849.9,290.9 850.7,291.0 851.5,291.2 852.3,291.3 853.1,291.4 853.9,291.6 854.7,291.7 855.5,291.9 856.3,292.0 857.1,292.2 857.9,292.3 858.7,292.4 859.5,292.6 860.3,292.7 861.1,292.9 861.9,293.0 862.7,293.2 863.5,293.3 864.3,293.5 865.1,293.6 865.9,293.8 866.7,293.9 867.5,294.0 868.3,294.2 869.1,294.3 869.9,294.4 870.7,294.6 871.5,294.7 872.4,294.8 873.2,294.9 874.0,295.1 874.8,295.2 875.6,295.3 876.4,295.4 877.2,295.5 878.0,295.6 878.8,295.7 879.6,295.8 880.4,295.9 881.2,295.9 882.0,296.0 882.8,296.1 883.6,296.2 884.4,296.2 885.2,296.3 886.0,296.3 886.8,296.4 887.6,296.4 888.4,296.4 889.2,296.5 890.0,296.5 890.8,296.5 891.6,296.5 892.4,296.5 893.2,296.5 894.0,296.5 894.8,296.5 895.6,296.5 896.4,296.5 897.3,296.5 898.1,296.4 898.9,296.4 899.7,296.4 900.5,296.3 901.3,296.3 902.1,296.2 902.9,296.2 903.7,296.1 904.5,296.1 905.3,296.0 906.1,295.9 906.9,295.8 907.7,295.8 908.5,295.7 909.3,295.6 910.1,295.5 910.9,295.4 911.7,295.3 912.5,295.2 913.3,295.1 914.1,295.0 914.9,294.9 915.7,294.8 916.5,294.7 917.3,294.6 918.1,294.5 918.9,294.4 919.7,294.3 920.5,294.2 921.3,294.1 922.2,294.0 923.0,293.9 923.8,293.8 924.6,293.6 925.4,293.5 926.2,293.4 927.0,293.3 927.8,293.2 928.6,293.1 929.4,293.0 930.2,292.9 931.0,292.8 931.8,292.7 932.6,292.6 933.4,292.5 934.2,292.4 935.0,292.3 935.8,292.3 936.6,292.2 937.4,292.1 938.2,292.0 939.0,291.9 939.8,291.9 940.6,291.8 941.4,291.7 942.2,291.7 943.0,291.6 943.8,291.6 944.6,291.5 945.4,291.5 946.2,291.4 947.0,291.4 947.9,291.3 948.7,291.3 949.5,291.3 950.3,291.2 951.1,291.2 951.9,291.2 952.7,291.2 953.5,291.2 954.3,291.2 955.1,291.2 955.9,291.2 956.7,291.2 957.5,291.2 958.3,291.2 959.1,291.2 959.9,291.2 960.7,291.3 961.5,291.3 962.3,291.3 963.1,291.4 963.9,291.4 964.7,291.4 965.5,291.5 966.3,291.5 967.1,291.6 967.9,291.6 968.7,291.7 969.5,291.7 970.3,291.8 971.1,291.9 971.9,291.9 972.8,292.0 973.6,292.1 974.4,292.1 975.2,292.2 976.0,292.3 976.8,292.4 977.6,292.4 978.4,292.5 979.2,292.6 980.0,292.7 980.8,292.7 981.6,292.8 982.4,292.9 983.2,293.0 983.5,293.0" fill="none" stroke="#bf00bf" stroke-width="1.3" stroke-linejoin="round"/>
<polyline points="100.0,493.2 100.8,492.1 101.5,491.0 102.2,489.7 103.0,488.4 103.8,487.0 104.5,485.5 105.2,483.9 106.0,482.2 106.8,480.5 107.5,478.7 108.2,476.9 109.0,475.0 109.8,473.0 110.5,471.0 111.2,468.9 112.0,466.8 112.8,464.7 113.5,462.5 114.2,460.3 115.0,458.1 115.8,455.8 116.5,453.3 117.2,450.6 118.0,447.8 118.8,444.9 119.5,441.9 120.2,438.8 121.0,435.7 121.8,432.5 122.5,429.3 123.2,426.1 124.0,422.8 124.8,419.6 125.5,416.2 126.2,412.7 127.0,409.2 127.8,405.6 128.5,402.0 129.2,398.2 130.0,394.4 130.8,390.5 131.5,386.4 132.2,382.2 133.0,378.0 133.8,373.7 134.5,369.4 135.2,365.2 136.0,361.0 136.8,356.8 137.5,352.8 138.2,348.9 139.0,345.1 139.8,341.4 140.5,337.9 141.2,334.4 142.0,330.9 142.8,327.5 143.5,324.1 144.2,320.7 145.0,317.3 145.8,313.9 146.5,310.4 147.2,306.8 148.0,303.2 148.8,299.5 149.5,295.7 150.2,291.9 151.0,288.1 151.8,284.3 152.5,280.5 153.2,276.8 154.0,273.0 154.8,269.3 155.5,265.7 156.2,262.2 157.0,258.7 157.8,255.3 158.5,252.0 159.2,248.7 160.0,245.5 160.8,242.3 161.5,239.2 162.2,236.1 163.0,233.2 163.8,230.4 164.5,227.7 165.2,225.2 166.0,222.8 166.8,220.5 167.5,218.4 168.2,216.3 169.0,214.3 169.8,212.3 170.5,210.2 171.2,208.2 172.0,206.1 172.8,203.8 173.5,201.5 174.2,199.2 175.0,197.0 175.8,194.9 176.5,192.9 177.2,191.2 178.0,189.8 178.8,188.6 179.5,187.6 180.2,186.7 181.0,186.0 181.8,185.3 182.5,184.7 183.2,184.3 184.0,184.4 184.8,184.7 185.5,185.2 186.2,185.8 187.0,186.5 187.8,187.4 188.5,188.4 189.2,189.8 190.0,191.3 190.8,193.0 191.5,194.9 192.2,196.9 193.0,199.2 193.8,201.6 194.5,204.1 195.2,206.5 196.0,208.9 196.8,211.5 197.5,214.2 198.2,217.1 199.0,220.3 199.8,224.0 200.5,227.9 201.2,231.8 202.0,235.7 202.8,239.5 203.5,243.2 204.2,247.0 205.0,250.8 205.8,254.6 206.5,258.3 207.2,262.0 208.0,265.7 208.8,269.4 209.5,273.1 210.2,276.8 211.0,280.6 211.8,284.4 212.5,288.3 213.2,292.3 214.0,296.3 214.8,300.2 215.5,304.0 216.2,307.9 217.0,311.7 217.8,315.6 218.5,319.5 219.2,323.3 220.0,327.0 220.8,330.6 221.5,334.1 222.2,337.3 223.0,340.4 223.8,343.4 224.5,346.5 225.2,349.4 226.0,352.3 226.8,355.1 227.5,357.7 228.2,360.1 229.0,362.2 229.8,364.0 230.5,365.5 231.2,366.8 232.0,368.2 232.8,369.5 233.5,370.8 234.2,372.0 235.0,373.2 235.8,374.3 236.5,375.3 237.2,376.2 238.0,377.0 238.8,377.6 239.5,378.1 240.2,378.5 241.0,378.7 241.8,378.8 242.5,378.6 243.2,378.2 244.0,377.5 244.8,376.6 245.5,375.5 246.2,374.3 247.0,372.9 247.8,371.4 248.5,369.8 249.2,368.1 250.0,366.3 250.8,364.5 251.5,362.7 252.2,360.8 253.0,359.0 253.8,357.3 254.5,355.6 255.2,353.9 256.0,352.2 256.8,350.3 257.5,348.4 258.2,346.5 259.0,344.5 259.8,342.4 260.5,340.3 261.2,338.1 262.0,335.9 262.8,333.7 263.5,331.4 264.2,329.1 265.0,326.8 265.8,324.5 266.5,322.1 267.2,319.7 268.0,317.4 268.8,314.9 269.5,312.3 270.2,309.7 271.0,306.9 271.8,304.2 272.5,301.4 273.2,298.6 274.0,295.8 274.8,293.1 275.5,290.4 276.2,287.8 277.0,285.3 277.8,282.9 278.5,280.6 279.2,278.3 280.0,276.0 280.8,273.8 281.5,271.6 282.2,269.5 283.0,267.4 283.8,265.3 284.5,263.1 285.2,260.8 286.0,258.5 286.8,256.3 287.5,254.0 288.2,251.8 289.0,249.7 289.8,247.7 290.5,245.8 291.2,244.1 292.0,242.6 292.8,241.3 293.5,240.2 294.2,239.3 295.0,238.4 295.8,237.6 296.5,236.7 297.2,235.9 298.0,235.2 298.8,234.5 299.5,233.8 300.2,233.2 301.0,232.8 301.8,232.4 302.5,232.1 303.2,231.9 304.0,231.8 304.1,231.8 304.9,231.9 305.7,232.0 306.5,232.3 307.3,232.6 308.1,233.1 308.9,233.6 309.7,234.3 310.6,235.0 311.4,235.8 312.2,236.7 313.0,237.7 313.8,238.8 314.6,240.0 315.4,241.3 316.2,242.6 317.0,244.0 317.8,245.5 318.6,247.0 319.4,248.6 320.2,250.3 321.0,252.0 321.9,253.8 322.7,255.6 323.5,257.5 324.3,259.4 325.1,261.4 325.9,263.4 326.7,265.4 327.5,267.5 328.3,269.6 329.1,271.7 329.9,273.8 330.7,276.0 331.5,278.1 332.3,280.3 333.1,282.5 334.0,284.7 334.8,286.8 335.6,289.0 336.4,291.1 337.2,293.3 338.0,295.4 338.8,297.5 339.6,299.6 340.4,301.6 341.2,303.7 342.0,305.6 342.8,307.6 343.6,309.5 344.4,311.4 345.2,313.2 346.1,315.0 346.9,316.7 347.7,318.4 348.5,320.0 349.3,321.5 350.1,323.0 350.9,324.5 351.7,325.8 352.5,327.1 353.3,328.4 354.1,329.5 354.9,330.6 355.7,331.7 356.5,332.6 357.4,333.5 358.2,334.3 359.0,335.0 359.8,335.7 360.6,336.3 361.4,336.8 362.2,337.2 363.0,337.5 363.8,337.8 364.6,338.0 365.4,338.1 366.2,338.1 367.0,338.1 367.9,338.0 368.7,337.8 369.5,337.5 370.3,337.2 371.1,336.8 371.9,336.3 372.7,335.8 373.5,335.1 374.3,334.4 375.2,333.7 376.0,332.9 376.8,332.0 377.6,331.1 378.4,330.1 379.2,329.0 380.0,328.0 380.8,326.8 381.7,325.6 382.5,324.4 383.3,323.1 384.1,321.8 384.9,320.4 385.7,319.0 386.5,317.6 387.3,316.1 388.1,314.6 389.0,313.1 389.8,311.6 390.6,310.0 391.4,308.5 392.2,306.9 393.0,305.3 393.8,303.7 394.6,302.1 395.5,300.5 396.3,298.9 397.1,297.3 397.9,295.7 398.7,294.1 399.5,292.5 400.3,291.0 401.1,289.4 401.9,287.9 402.8,286.4 403.6,284.9 404.4,283.5 405.2,282.1 406.0,280.7 406.8,279.3 407.6,278.0 408.4,276.7 409.3,275.5 410.1,274.3 410.9,273.1 411.7,272.0 412.5,270.9 413.3,269.9 414.1,268.9 414.9,268.0 415.7,267.1 416.6,266.3 417.4,265.5 418.2,264.8 419.0,264.2 419.8,263.6 420.6,263.0 421.4,262.5 422.2,262.1 423.1,261.7 423.9,261.4 424.7,261.1 425.5,260.9 426.3,260.8 427.1,260.7 427.9,260.7 428.7,260.7 429.5,260.8 430.3,260.9 431.2,261.1 432.0,261.4 432.8,261.6 433.6,262.0 434.4,262.4 435.2,262.8 436.0,263.3 436.8,263.8 437.6,264.4 438.4,265.0 439.2,265.7 440.0,266.4 440.8,267.1 441.6,267.9 442.5,268.7 443.3,269.6 444.1,270.5 444.9,271.4 445.7,272.3 446.5,273.3 447.3,274.3 448.1,275.3 448.9,276.4 449.7,277.4 450.5,278.5 451.3,279.6 452.1,280.7 452.9,281.8 453.7,283.0 454.6,284.1 455.4,285.2 456.2,286.4 457.0,287.5 457.8,288.7 458.6,289.9 459.4,291.0 460.2,292.1 461.0,293.3 461.8,294.4 462.6,295.5 463.4,296.6 464.2,297.7 465.0,298.8 465.9,299.8 466.7,300.9 467.5,301.9 468.3,302.9 469.1,303.8 469.9,304.8 470.7,305.7 471.5,306.6 472.3,307.4 473.1,308.2 473.9,309.0 474.7,309.8 475.5,310.5 476.3,311.2 477.2,311.9 478.0,312.5 478.8,313.1 479.6,313.6 480.4,314.1 481.2,314.6 482.0,315.0 482.8,315.4 483.6,315.7 484.4,316.1 485.2,316.3 486.0,316.5 486.8,316.7 487.6,316.9 488.5,317.0 489.3,317.0 490.1,317.1 490.9,317.0 491.7,317.0 492.5,316.9 493.3,316.7 494.1,316.6 494.9,316.4 495.7,316.1 496.5,315.8 497.3,315.5 498.1,315.2 498.9,314.8 499.7,314.4 500.5,314.0 501.3,313.5 502.1,313.0 502.9,312.4 503.7,311.9 504.5,311.3 505.3,310.7 506.1,310.1 506.9,309.4 507.7,308.7 508.5,308.0 509.3,307.3 510.1,306.6 510.9,305.9 511.7,305.1 512.5,304.3 513.3,303.5 514.1,302.7 514.9,301.9 515.7,301.1 516.5,300.3 517.3,299.5 518.1,298.6 518.9,297.8 519.8,297.0 520.6,296.2 521.4,295.3 522.2,294.5 523.0,293.7 523.8,292.9 524.6,292.1 525.4,291.3 526.2,290.5 527.0,289.7 527.8,288.9 528.6,288.2 529.4,287.4 530.2,286.7 531.0,286.0 531.8,285.3 532.6,284.6 533.4,284.0 534.2,283.4 535.0,282.7 535.8,282.2 536.6,281.6 537.4,281.0 538.2,280.5 539.0,280.0 539.8,279.6 540.6,279.1 541.4,278.7 542.2,278.3 543.0,278.0 543.8,277.6 544.6,277.3 545.4,277.1 546.2,276.8 547.0,276.6 547.8,276.4 548.6,276.2 549.4,276.1 550.2,276.0 551.0,275.9 551.8,275.9 552.6,275.9 553.5,275.9 554.3,275.9 555.1,276.0 555.9,276.1 556.7,276.3 557.5,276.4 558.3,276.6 559.1,276.8 560.0,277.1 560.8,277.3 561.6,277.6 562.4,277.9 563.2,278.3 564.0,278.7 564.8,279.0 565.6,279.5 566.4,279.9 567.3,280.3 568.1,280.8 568.9,281.3 569.7,281.8 570.5,282.3 571.3,282.9 572.1,283.4 572.9,284.0 573.8,284.5 574.6,285.1 575.4,285.7 576.2,286.3 577.0,286.9 577.8,287.5 578.6,288.2 579.4,288.8 580.2,289.4 581.1,290.0 581.9,290.7 582.7,291.3 583.5,291.9 584.3,292.6 585.1,293.2 585.9,293.8 586.7,294.4 587.6,295.0 588.4,295.6 589.2,296.2 590.0,296.8 590.8,297.3 591.6,297.9 592.4,298.4 593.2,299.0 594.0,299.5 594.9,300.0 595.7,300.5 596.5,301.0 597.3,301.4 598.1,301.9 598.9,302.3 599.7,302.7 600.5,303.1 601.4,303.4 602.2,303.8 603.0,304.1 603.8,304.4 604.6,304.7 605.4,304.9 606.2,305.2 607.0,305.4 607.8,305.6 608.7,305.7 609.5,305.9 610.3,306.0 611.1,306.1 611.9,306.2 612.7,306.3 613.5,306.3 614.3,306.3 615.2,306.3 616.0,306.2 616.8,306.2 617.6,306.1 618.4,306.0 619.2,305.9 620.0,305.7 620.8,305.6 621.6,305.4 622.4,305.2 623.3,304.9 624.1,304.7 624.9,304.4 625.7,304.1 626.5,303.8 627.3,303.5 628.1,303.2 628.9,302.8 629.7,302.5 630.5,302.1 631.4,301.7 632.2,301.3 633.0,300.9 633.8,300.4 634.6,300.0 635.4,299.6 636.2,299.1 637.0,298.7 637.8,298.2 638.6,297.7 639.5,297.3 640.3,296.8 641.1,296.3 641.9,295.8 642.7,295.3 643.5,294.9 644.3,294.4 645.1,293.9 645.9,293.4 646.7,293.0 647.5,292.5 648.4,292.0 649.2,291.6 650.0,291.1 650.8,290.7 651.6,290.2 652.4,289.8 653.2,289.4 654.0,289.0 654.8,288.6 655.6,288.2 656.5,287.8 657.3,287.5 658.1,287.1 658.9,286.8 659.7,286.5 660.5,286.2 661.3,285.9 662.1,285.7 662.9,285.4 663.7,285.2 664.6,284.9 665.4,284.7 666.2,284.6 667.0,284.4 667.8,284.2 668.6,284.1 669.4,284.0 670.2,283.9 671.0,283.8 671.8,283.7 672.7,283.7 673.5,283.7 674.3,283.7 675.1,283.7 675.9,283.7 676.7,283.7 677.5,283.8 678.3,283.8 679.1,283.9 679.9,284.0 680.7,284.1 681.5,284.2 682.4,284.3 683.2,284.5 684.0,284.6 684.8,284.8 685.6,285.0 686.4,285.2 687.2,285.4 688.0,285.6 688.8,285.8 689.6,286.0 690.4,286.2 691.2,286.5 692.1,286.7 692.9,287.0 693.7,287.2 694.5,287.5 695.3,287.8 696.1,288.1 696.9,288.4 697.7,288.7 698.5,289.0 699.3,289.3 700.1,289.6 700.9,289.9 701.7,290.2 702.6,290.5 703.4,290.8 704.2,291.1 705.0,291.5 705.8,291.8 706.6,292.1 707.4,292.4 708.2,292.7 709.0,293.0 709.8,293.3 710.6,293.7 711.4,294.0 712.3,294.3 713.1,294.6 713.9,294.9 714.7,295.1 715.5,295.4 716.3,295.7 717.1,296.0 717.9,296.2 718.7,296.5 719.5,296.8 720.3,297.0 721.1,297.2 722.0,297.5 722.8,297.7 723.6,297.9 724.4,298.1 725.2,298.3 726.0,298.5 726.8,298.7 727.6,298.9 728.4,299.0 729.2,299.2 730.0,299.3 730.8,299.4 731.6,299.6 732.5,299.7 733.3,299.8 734.1,299.9 734.9,299.9 735.7,300.0 736.5,300.1 737.3,300.1 738.1,300.1 738.9,300.2 739.7,300.2 740.5,300.2 741.3,300.2 742.1,300.2 742.9,300.1 743.8,300.1 744.6,300.0 745.4,300.0 746.2,299.9 747.0,299.8 747.8,299.7 748.6,299.6 749.4,299.5 750.2,299.4 751.0,299.3 751.8,299.1 752.6,299.0 753.4,298.8 754.2,298.7 755.0,298.5 755.8,298.3 756.6,298.2 757.4,298.0 758.2,297.8 759.0,297.6 759.8,297.4 760.6,297.1 761.4,296.9 762.2,296.7 763.0,296.5 763.8,296.3 764.6,296.0 765.4,295.8 766.2,295.6 767.0,295.3 767.8,295.1 768.6,294.8 769.5,294.6 770.3,294.4 771.1,294.1 771.9,293.9 772.7,293.6 773.5,293.4 774.3,293.2 775.1,292.9 775.9,292.7 776.7,292.5 777.5,292.3 778.3,292.1 779.1,291.8 779.9,291.6 780.7,291.4 781.5,291.2 782.3,291.0 783.1,290.8 783.9,290.6 784.7,290.5 785.5,290.3 786.3,290.1 787.1,290.0 787.9,289.8 788.7,289.7 789.5,289.5 790.3,289.4 791.1,289.3 791.9,289.2 792.7,289.1 793.5,289.0 794.4,288.9 795.2,288.8 796.0,288.7 796.8,288.7 797.6,288.6 798.4,288.6 799.2,288.5 800.0,288.5 800.8,288.5 801.6,288.5 802.4,288.5 803.2,288.5 804.0,288.5 804.8,288.5 805.6,288.5 806.4,288.6 807.2,288.6 808.0,288.7 808.8,288.7 809.6,288.8 810.4,288.9 811.2,289.0 812.0,289.0 812.8,289.1 813.6,289.2 814.4,289.3 815.2,289.5 816.0,289.6 816.8,289.7 817.6,289.8 818.4,290.0 819.2,290.1 820.1,290.3 820.9,290.4 821.7,290.6 822.5,290.7 823.3,290.9 824.1,291.0 824.9,291.2 825.7,291.4 826.5,291.5 827.3,291.7 828.1,291.9 828.9,292.1 829.7,292.2 830.5,292.4 831.3,292.6 832.1,292.8 832.9,293.0 833.7,293.1 834.5,293.3 835.3,293.5 836.1,293.7 836.9,293.8 837.7,294.0 838.5,294.2 839.3,294.3 840.1,294.5 840.9,294.6 841.7,294.8 842.5,295.0 843.3,295.1 844.1,295.2 845.0,295.4 845.8,295.5 846.6,295.7 847.4,295.8 848.2,295.9 849.0,296.0 849.8,296.1 850.6,296.2 851.4,296.3 852.2,296.4 853.0,296.5 853.8,296.6 854.6,296.7 855.4,296.8 856.2,296.8 857.0,296.9 857.8,296.9 858.6,297.0 859.4,297.0 860.2,297.1 861.0,297.1 861.8,297.1 862.6,297.1 863.4,297.1 864.2,297.1 865.0,297.1 865.8,297.1 866.6,297.1 867.4,297.1 868.2,297.1 869.0,297.0 869.8,297.0 870.7,296.9 871.5,296.9 872.3,296.8 873.1,296.8 873.9,296.7 874.7,296.6 875.5,296.6 876.3,296.5 877.1,296.4 877.9,296.3 878.7,296.2 879.5,296.1 880.3,296.0 881.1,295.9 881.9,295.8 882.7,295.7 883.5,295.6 884.3,295.5 885.1,295.4 885.9,295.2 886.7,295.1 887.5,295.0 888.3,294.9 889.1,294.7 889.9,294.6 890.7,294.5 891.5,294.3 892.3,294.2 893.1,294.1 893.9,294.0 894.7,293.8 895.6,293.7 896.4,293.6 897.2,293.4 898.0,293.3 898.8,293.2 899.6,293.0 900.4,292.9 901.2,292.8 902.0,292.7 902.8,292.6 903.6,292.5 904.4,292.3 905.2,292.2 906.0,292.1 906.8,292.0 907.6,291.9 908.4,291.8 909.2,291.7 910.0,291.6 910.8,291.5 911.6,291.5 912.4,291.4 913.2,291.3 914.0,291.2 914.8,291.2 915.6,291.1 916.4,291.1 917.2,291.0 918.0,291.0 918.8,290.9 919.6,290.9 920.5,290.8 921.3,290.8 922.1,290.8 922.9,290.8 923.7,290.7 924.5,290.7 925.3,290.7 926.1,290.7 926.9,290.7 927.7,290.7 928.5,290.7 929.3,290.8 930.1,290.8 930.9,290.8 931.7,290.8 932.5,290.9 933.3,290.9 934.1,290.9 934.9,291.0 935.7,291.0 936.5,291.1 937.3,291.1 938.1,291.2 938.9,291.3 939.7,291.3 940.5,291.4 941.3,291.5 942.1,291.5 942.9,291.6 943.7,291.7 944.5,291.8 945.3,291.9 946.2,292.0 947.0,292.0 947.8,292.1 948.6,292.2 949.4,292.3 950.2,292.4 951.0,292.5 951.8,292.6 952.6,292.7 953.4,292.8 954.2,292.9 955.0,293.0 955.8,293.1 956.6,293.2 957.4,293.3 958.2,293.4 959.0,293.5 959.8,293.6 960.6,293.7 961.4,293.7 962.2,293.8 963.0,293.9 963.8,294.0 964.6,294.1 965.4,294.2 966.2,294.3 967.0,294.4 967.8,294.4 968.6,294.5 969.4,294.6 970.2,294.7 971.1,294.7 971.9,294.8 972.7,294.9 973.5,294.9 974.3,295.0 975.1,295.0 975.9,295.1 976.7,295.1 977.5,295.2 978.3,295.2 979.1,295.3 979.9,295.3 980.7,295.3 981.5,295.4 982.3,295.4 983.1,295.4 983.5,295.4" fill="none" stroke="#bfbf00" stroke-width="1.3" stroke-linejoin="round"/>
<polyline points="100.0,385.0 100.8,411.1 101.5,436.7 102.2,461.8 103.0,486.4 103.8,510.5 104.5,533.9 105.2,556.3 106.0,577.8 106.8,598.6 107.5,619.7 108.2,640.2 109.0,656.9 109.8,670.3 110.5,681.8 111.2,691.4 112.0,699.4 112.8,706.2 113.5,712.2 114.2,717.8 115.0,713.5 115.8,708.4 116.5,703.0 117.2,697.5 118.0,691.8 118.8,686.3 119.5,680.9 120.2,675.7 121.0,670.6 121.8,665.5 122.5,660.4 123.2,655.4 124.0,650.5 124.8,645.5 125.5,640.5 126.2,635.6 127.0,630.6 127.8,625.6 128.5,620.7 129.2,615.8 130.0,610.9 130.8,606.0 131.5,601.0 132.2,596.0 133.0,591.0 133.8,586.0 134.5,580.9 135.2,575.8 136.0,570.6 136.8,565.4 137.5,560.1 138.2,554.8 139.0,549.2 139.8,543.6 140.5,537.9 141.2,532.1 142.0,526.5 142.8,521.0 143.5,515.7 144.2,510.6 145.0,505.8 145.8,501.1 146.5,496.4 147.2,491.8 148.0,487.4 148.8,483.2 149.5,479.2 150.2,475.5 151.0,472.1 151.8,468.9 152.5,465.9 153.2,463.1 154.0,460.3 154.8,457.7 155.5,455.3 156.2,453.1 157.0,451.1 157.8,449.2 158.5,447.6 159.2,446.0 160.0,444.6 160.8,443.2 161.5,441.9 162.2,440.8 163.0,439.7 163.8,438.7 164.5,437.8 165.2,437.0 166.0,436.2 166.8,435.4 167.5,434.7 168.2,434.0 169.0,433.4 169.8,432.9 170.5,432.5 171.2,432.2 172.0,431.9 172.8,431.7 173.5,431.4 174.2,431.2 175.0,431.1 175.8,430.9 176.5,430.9 177.2,430.9 178.0,431.1 178.8,431.2 179.5,431.5 180.2,431.8 181.0,432.2 181.8,432.6 182.5,433.1 183.2,433.6 184.0,434.1 184.8,434.6 185.5,435.3 186.2,436.1 187.0,437.0 187.8,438.1 188.5,439.3 189.2,440.6 190.0,441.9 190.8,443.4 191.5,444.8 192.2,446.4 193.0,447.9 193.8,449.4 194.5,451.1 195.2,452.8 196.0,454.7 196.8,456.7 197.5,458.8 198.2,461.0 199.0,463.2 199.8,465.4 200.5,467.7 201.2,469.9 202.0,472.2 202.8,474.5 203.5,476.7 204.2,479.1 205.0,481.5 205.8,483.9 206.5,486.4 207.2,488.9 208.0,491.4 208.8,493.9 209.5,496.4 210.2,498.9 211.0,501.3 211.8,503.8 212.5,506.3 213.2,508.8 214.0,511.4 214.8,514.0 215.5,516.6 216.2,519.2 217.0,521.7 217.8,524.1 218.5,526.4 219.2,528.7 220.0,530.8 220.8,532.7 221.5,534.7 222.2,536.5 223.0,538.3 223.8,540.1 224.5,541.8 225.2,543.5 226.0,545.1 226.8,546.7 227.5,548.2 228.2,549.7 229.0,551.1 229.8,552.6 230.5,554.0 231.2,555.5 232.0,556.9 232.8,558.3 233.5,559.5 234.2,560.7 235.0,561.6 235.8,562.4 236.5,563.0 237.2,563.6 238.0,564.1 238.8,564.6 239.5,565.1 240.2,565.5 241.0,565.7 241.8,565.9 242.2,565.9 243.0,565.8 243.8,565.7 244.6,565.4 245.4,565.1 246.2,564.6 247.0,564.1 247.8,563.4 248.7,562.7 249.5,561.9 250.3,560.9 251.1,559.9 251.9,558.8 252.7,557.7 253.5,556.4 254.3,555.1 255.1,553.7 255.9,552.2 256.7,550.6 257.5,549.0 258.3,547.4 259.1,545.6 259.9,543.9 260.8,542.0 261.6,540.1 262.4,538.2 263.2,536.3 264.0,534.3 264.8,532.2 265.6,530.2 266.4,528.1 267.2,526.0 268.0,523.8 268.8,521.7 269.6,519.5 270.4,517.4 271.2,515.2 272.0,513.1 272.8,510.9 273.7,508.8 274.5,506.6 275.3,504.5 276.1,502.4 276.9,500.3 277.7,498.3 278.5,496.3 279.3,494.3 280.1,492.3 280.9,490.4 281.7,488.5 282.5,486.7 283.3,484.9 284.1,483.2 284.9,481.5 285.8,479.9 286.6,478.3 287.4,476.8 288.2,475.4 289.0,474.0 289.8,472.7 290.6,471.4 291.4,470.3 292.2,469.2 293.0,468.1 293.8,467.2 294.6,466.3 295.4,465.5 296.2,464.7 297.0,464.1 297.9,463.5 298.7,463.0 299.5,462.6 300.3,462.2 301.1,461.9 301.9,461.7 302.7,461.6 303.5,461.6 304.3,461.6 305.1,461.7 305.9,461.9 306.7,462.2 307.6,462.5 308.4,462.9 309.2,463.4 310.0,463.9 310.8,464.5 311.6,465.2 312.4,466.0 313.2,466.8 314.1,467.6 314.9,468.5 315.7,469.5 316.5,470.5 317.3,471.6 318.1,472.7 318.9,473.9 319.7,475.1 320.5,476.4 321.4,477.7 322.2,479.0 323.0,480.4 323.8,481.8 324.6,483.2 325.4,484.7 326.2,486.2 327.0,487.7 327.9,489.2 328.7,490.7 329.5,492.3 330.3,493.9 331.1,495.4 331.9,497.0 332.7,498.6 333.5,500.2 334.3,501.7 335.2,503.3 336.0,504.9 336.8,506.4 337.6,507.9 338.4,509.4 339.2,510.9 340.0,512.4 340.8,513.9 341.7,515.3 342.5,516.7 343.3,518.1 344.1,519.4 344.9,520.7 345.7,521.9 346.5,523.2 347.3,524.4 348.1,525.5 349.0,526.6 349.8,527.6 350.6,528.6 351.4,529.6 352.2,530.5 353.0,531.4 353.8,532.2 354.6,532.9 355.5,533.6 356.3,534.3 357.1,534.9 357.9,535.4 358.7,535.9 359.5,536.3 360.3,536.7 361.1,537.0 362.0,537.2 362.8,537.4 363.6,537.6 364.4,537.7 365.2,537.7 366.0,537.7 366.8,537.6 367.6,537.5 368.4,537.3 369.2,537.0 370.0,536.7 370.8,536.4 371.7,536.0 372.5,535.6 373.3,535.1 374.1,534.6 374.9,534.0 375.7,533.4 376.5,532.7 377.3,532.0 378.1,531.3 378.9,530.5 379.7,529.7 380.5,528.9 381.3,528.0 382.1,527.1 383.0,526.1 383.8,525.2 384.6,524.2 385.4,523.2 386.2,522.1 387.0,521.1 387.8,520.0 388.6,518.9 389.4,517.8 390.2,516.7 391.0,515.6 391.8,514.5 392.6,513.3 393.4,512.2 394.2,511.0 395.1,509.9 395.9,508.8 396.7,507.6 397.5,506.5 398.3,505.4 399.1,504.3 399.9,503.1 400.7,502.1 401.5,501.0 402.3,499.9 403.1,498.9 403.9,497.8 404.7,496.8 405.5,495.9 406.4,494.9 407.2,494.0 408.0,493.1 408.8,492.2 409.6,491.3 410.4,490.5 411.2,489.7 412.0,489.0 412.8,488.3 413.6,487.6 414.4,486.9 415.2,486.3 416.0,485.7 416.8,485.2 417.7,484.7 418.5,484.2 419.3,483.8 420.1,483.4 420.9,483.1 421.7,482.8 422.5,482.5 423.3,482.3 424.1,482.1 424.9,482.0 425.7,481.9 426.5,481.8 427.3,481.8 428.1,481.8 428.9,481.9 429.8,482.0 430.6,482.1 431.4,482.3 432.2,482.5 433.0,482.8 433.8,483.0 434.6,483.4 435.4,483.7 436.2,484.1 437.0,484.6 437.8,485.0 438.6,485.5 439.4,486.0 440.2,486.6 441.0,487.2 441.8,487.8 442.7,488.4 443.5,489.0 444.3,489.7 445.1,490.4 445.9,491.1 446.7,491.9 447.5,492.6 448.3,493.4 449.1,494.2 449.9,495.0 450.7,495.8 451.5,496.6 452.3,497.4 453.1,498.3 453.9,499.1 454.7,499.9 455.5,500.8 456.4,501.6 457.2,502.5 458.0,503.3 458.8,504.2 459.6,505.0 460.4,505.8 461.2,506.6 462.0,507.4 462.8,508.3 463.6,509.0 464.4,509.8 465.2,510.6 466.0,511.3 466.8,512.1 467.6,512.8 468.4,513.5 469.2,514.2 470.1,514.8 470.9,515.4 471.7,516.1 472.5,516.6 473.3,517.2 474.1,517.8 474.9,518.3 475.7,518.8 476.5,519.2 477.3,519.6 478.1,520.0 478.9,520.4 479.7,520.8 480.5,521.1 481.3,521.4 482.1,521.6 483.0,521.9 483.8,522.1 484.6,522.2 485.4,522.4 486.2,522.5 487.0,522.5 487.8,522.6 488.6,522.6 489.4,522.6 490.2,522.5 491.0,522.5 491.8,522.4 492.6,522.2 493.4,522.1 494.2,521.9 495.0,521.7 495.9,521.5 496.7,521.2 497.5,520.9 498.3,520.6 499.1,520.3 499.9,519.9 500.7,519.6 501.5,519.2 502.3,518.8 503.1,518.3 503.9,517.9 504.7,517.4 505.5,516.9 506.3,516.4 507.2,515.9 508.0,515.4 508.8,514.8 509.6,514.3 510.4,513.7 511.2,513.1 512.0,512.5 512.8,512.0 513.6,511.4 514.4,510.8 515.2,510.1 516.0,509.5 516.8,508.9 517.6,508.3 518.5,507.7 519.3,507.1 520.1,506.5 520.9,505.9 521.7,505.3 522.5,504.7 523.3,504.1 524.1,503.5 524.9,502.9 525.7,502.3 526.5,501.8 527.3,501.2 528.1,500.7 528.9,500.2 529.8,499.7 530.6,499.2 531.4,498.7 532.2,498.2 533.0,497.7 533.8,497.3 534.6,496.9 535.4,496.5 536.2,496.1 537.0,495.7 537.8,495.4 538.6,495.0 539.4,494.7 540.2,494.4 541.0,494.2 541.9,493.9 542.7,493.7 543.5,493.5 544.3,493.3 545.1,493.2 545.9,493.0 546.7,492.9 547.5,492.8 548.3,492.7 549.1,492.7 549.9,492.6 550.7,492.6 551.5,492.6 552.3,492.7 553.1,492.7 554.0,492.8 554.8,492.9 555.6,493.0 556.4,493.1 557.2,493.3 558.0,493.4 558.8,493.6 559.6,493.8 560.4,494.1 561.2,494.3 562.0,494.5 562.8,494.8 563.6,495.1 564.4,495.4 565.2,495.7 566.0,496.0 566.8,496.4 567.6,496.7 568.4,497.1 569.2,497.5 570.1,497.8 570.9,498.2 571.7,498.6 572.5,499.0 573.3,499.5 574.1,499.9 574.9,500.3 575.7,500.7 576.5,501.2 577.3,501.6 578.1,502.0 578.9,502.5 579.7,502.9 580.5,503.4 581.3,503.8 582.1,504.3 582.9,504.7 583.7,505.1 584.5,505.6 585.4,506.0 586.2,506.4 587.0,506.8 587.8,507.2 588.6,507.6 589.4,508.0 590.2,508.4 591.0,508.8 591.8,509.2 592.6,509.5 593.4,509.9 594.2,510.2 595.0,510.6 595.8,510.9 596.6,511.2 597.4,511.5 598.2,511.7 599.0,512.0 599.8,512.3 600.6,512.5 601.5,512.7 602.3,512.9 603.1,513.1 603.9,513.3 604.7,513.5 605.5,513.6 606.3,513.7 607.1,513.9 607.9,514.0 608.7,514.1 609.5,514.1 610.3,514.2 611.1,514.2 611.9,514.2 612.7,514.2 613.5,514.2 614.3,514.2 615.1,514.2 616.0,514.1 616.8,514.1 617.6,514.0 618.4,513.9 619.2,513.8 620.0,513.7 620.8,513.5 621.6,513.4 622.4,513.2 623.2,513.1 624.0,512.9 624.8,512.7 625.7,512.5 626.5,512.3 627.3,512.1 628.1,511.8 628.9,511.6 629.7,511.3 630.5,511.1 631.3,510.8 632.1,510.6 632.9,510.3 633.7,510.0 634.5,509.7 635.3,509.4 636.2,509.1 637.0,508.8 637.8,508.5 638.6,508.2 639.4,507.9 640.2,507.6 641.0,507.3 641.8,506.9 642.6,506.6 643.4,506.3 644.2,506.0 645.0,505.7 645.9,505.4 646.7,505.1 647.5,504.8 648.3,504.5 649.1,504.2 649.9,503.9 650.7,503.6 651.5,503.3 652.3,503.0 653.1,502.7 653.9,502.5 654.7,502.2 655.5,501.9 656.4,501.7 657.2,501.5 658.0,501.2 658.8,501.0 659.6,500.8 660.4,500.6 661.2,500.4 662.0,500.2 662.8,500.0 663.6,499.8 664.4,499.7 665.2,499.5 666.1,499.4 666.9,499.3 667.7,499.2 668.5,499.1 669.3,499.0 670.1,498.9 670.9,498.8 671.7,498.8 672.5,498.7 673.3,498.7 674.1,498.6 674.9,498.6 675.7,498.6 676.6,498.6 677.4,498.6 678.2,498.7 679.0,498.7 679.8,498.8 680.6,498.8 681.4,498.9 682.2,499.0 683.0,499.1 683.8,499.2 684.6,499.3 685.4,499.4 686.2,499.5 687.0,499.7 687.8,499.8 688.6,500.0 689.4,500.1 690.2,500.3 691.0,500.5 691.8,500.7 692.6,500.9 693.4,501.1 694.2,501.3 695.0,501.5 695.8,501.7 696.6,501.9 697.4,502.2 698.2,502.4 699.0,502.6 699.8,502.8 700.6,503.1 701.4,503.3 702.3,503.6 703.1,503.8 703.9,504.1 704.7,504.3 705.5,504.5 706.3,504.8 707.1,505.0 707.9,505.3 708.7,505.5 709.5,505.7 710.3,506.0 711.1,506.2 711.9,506.4 712.7,506.7 713.5,506.9 714.3,507.1 715.1,507.3 715.9,507.5 716.7,507.7 717.5,507.9 718.3,508.1 719.1,508.3 719.9,508.5 720.7,508.7 721.5,508.8 722.3,509.0 723.1,509.2 723.9,509.3 724.7,509.4 725.5,509.6 726.3,509.7 727.2,509.8 728.0,509.9 728.8,510.0 729.6,510.1 730.4,510.2 731.2,510.3 732.0,510.3 732.8,510.4 733.6,510.4 734.4,510.5 735.2,510.5 736.0,510.5 736.8,510.5 737.6,510.5 738.4,510.5 739.2,510.5 740.0,510.5 740.8,510.5 741.6,510.4 742.4,510.4 743.2,510.3 744.0,510.3 744.8,510.2 745.6,510.1 746.4,510.0 747.2,510.0 748.0,509.9 748.8,509.8 749.6,509.6 750.4,509.5 751.2,509.4 752.0,509.3 752.9,509.1 753.7,509.0 754.5,508.9 755.3,508.7 756.1,508.6 756.9,508.4 757.7,508.2 758.5,508.1 759.3,507.9 760.1,507.7 760.9,507.6 761.7,507.4 762.5,507.2 763.3,507.1 764.1,506.9 764.9,506.7 765.7,506.5 766.5,506.3 767.3,506.2 768.1,506.0 768.9,505.8 769.7,505.6 770.5,505.4 771.3,505.3 772.1,505.1 772.9,504.9 773.7,504.7 774.5,504.6 775.3,504.4 776.1,504.3 776.9,504.1 777.8,503.9 778.6,503.8 779.4,503.6 780.2,503.5 781.0,503.4 781.8,503.2 782.6,503.1 783.4,503.0 784.2,502.9 785.0,502.7 785.8,502.6 786.6,502.5 787.4,502.4 788.2,502.3 789.0,502.3 789.8,502.2 790.6,502.1 791.4,502.0 792.2,502.0 793.0,501.9 793.8,501.9 794.6,501.8 795.4,501.8 796.2,501.8 797.0,501.7 797.8,501.7 798.6,501.7 799.4,501.7 800.2,501.7 801.0,501.7 801.8,501.7 802.7,501.8 803.5,501.8 804.3,501.8 805.1,501.9 805.9,501.9 806.7,502.0 807.5,502.0 808.3,502.1 809.1,502.1 809.9,502.2 810.7,502.3 811.5,502.4 812.3,502.5 813.1,502.6 813.9,502.6 814.7,502.7 815.5,502.8 816.3,503.0 817.1,503.1 817.9,503.2 818.7,503.3 819.5,503.4 820.3,503.5 821.1,503.7 821.9,503.8 822.7,503.9 823.5,504.0 824.3,504.2 825.1,504.3 825.9,504.4 826.7,504.6 827.5,504.7 828.4,504.8 829.2,505.0 830.0,505.1 830.8,505.2 831.6,505.4 832.4,505.5 833.2,505.6 834.0,505.7 834.8,505.9 835.6,506.0 836.4,506.1 837.2,506.2 838.0,506.4 838.8,506.5 839.6,506.6 840.4,506.7 841.2,506.8 842.0,506.9 842.8,507.0 843.6,507.1 844.4,507.2 845.2,507.3 846.0,507.4 846.8,507.5 847.6,507.6 848.4,507.6 849.2,507.7 850.0,507.8 850.8,507.8 851.6,507.9 852.4,508.0 853.3,508.0 854.1,508.1 854.9,508.1 855.7,508.1 856.5,508.2 857.3,508.2 858.1,508.2 858.9,508.2 859.7,508.2 860.5,508.2 861.3,508.2 862.1,508.2 862.9,508.2 863.7,508.2 864.5,508.2 865.3,508.2 866.1,508.2 866.9,508.1 867.7,508.1 868.5,508.1 869.3,508.0 870.1,508.0 870.9,507.9 871.7,507.9 872.5,507.8 873.3,507.8 874.1,507.7 874.9,507.6 875.7,507.6 876.5,507.5 877.3,507.4 878.1,507.3 879.0,507.2 879.8,507.2 880.6,507.1 881.4,507.0 882.2,506.9 883.0,506.8 883.8,506.7 884.6,506.6 885.4,506.5 886.2,506.4 887.0,506.3 887.8,506.2 888.6,506.1 889.4,506.0 890.2,505.9 891.0,505.8 891.8,505.7 892.6,505.6 893.4,505.5 894.2,505.5 895.0,505.4 895.8,505.3 896.6,505.2 897.4,505.1 898.2,505.0 899.0,504.9 899.8,504.8 900.6,504.7 901.4,504.6 902.2,504.5 903.0,504.5 903.9,504.4 904.7,504.3 905.5,504.2 906.3,504.2 907.1,504.1 907.9,504.0 908.7,504.0 909.5,503.9 910.3,503.9 911.1,503.8 911.9,503.8 912.7,503.7 913.5,503.7 914.3,503.6 915.1,503.6 915.9,503.6 916.7,503.5 917.5,503.5 918.3,503.5 919.1,503.5 919.9,503.4 920.7,503.4 921.5,503.4 922.3,503.4 923.1,503.4 923.9,503.4 924.7,503.4 925.5,503.4 926.3,503.4 927.1,503.5 927.9,503.5 928.7,503.5 929.6,503.5 930.4,503.5 931.2,503.6 932.0,503.6 932.8,503.6 933.6,503.7 934.4,503.7 935.2,503.8 936.0,503.8 936.8,503.9 937.6,503.9 938.4,504.0 939.2,504.0 940.0,504.1 940.8,504.2 941.6,504.2 942.4,504.3 943.2,504.3 944.0,504.4 944.8,504.5 945.6,504.5 946.4,504.6 947.2,504.7 948.0,504.8 948.8,504.8 949.6,504.9 950.4,505.0 951.2,505.0 952.0,505.1 952.8,505.2 953.6,505.3 954.5,505.3 955.3,505.4 956.1,505.5 956.9,505.6 957.7,505.6 958.5,505.7 959.3,505.8 960.1,505.8 960.9,505.9 961.7,506.0 962.5,506.0 963.3,506.1 964.1,506.1 964.9,506.2 965.7,506.3 966.5,506.3 967.3,506.4 968.1,506.4 968.9,506.5 969.7,506.5 970.5,506.6 971.3,506.6 972.1,506.7 972.9,506.7 973.7,506.7 974.5,506.8 975.3,506.8 976.1,506.8 976.9,506.9 977.7,506.9 978.5,506.9 979.4,506.9 980.2,506.9 981.0,507.0 981.8,507.0 982.6,507.0 983.4,507.0 983.5,507.0" fill="none" stroke="#404040" stroke-width="1.3" stroke-linejoin="round"/>
<polyline points="100.0,471.2 100.8,470.8 101.5,470.4 102.2,469.9 103.0,469.4 103.8,468.9 104.5,468.3 105.2,467.7 106.0,467.1 106.8,466.4 107.5,465.8 108.2,465.1 109.0,464.4 109.8,463.6 110.5,462.9 111.2,462.1 112.0,461.3 112.8,460.5 113.5,459.6 114.2,458.6 115.0,457.6 115.8,456.5 116.5,455.5 117.2,454.4 118.0,453.3 118.8,452.1 119.5,451.0 120.2,449.8 121.0,448.7 121.8,447.5 122.5,446.4 123.2,445.2 124.0,444.0 124.8,442.7 125.5,441.4 126.2,440.0 127.0,438.7 127.8,437.4 128.5,436.2 129.2,435.0 130.0,433.8 130.8,432.8 131.5,431.8 132.2,430.8 133.0,429.8 133.8,428.7 134.5,427.8 135.2,427.1 136.0,426.7 136.8,426.5 137.5,426.5 138.2,426.5 139.0,426.5 139.8,426.5 140.5,426.6 141.2,426.6 142.0,426.9 142.8,427.7 143.5,428.6 144.2,429.4 145.0,430.2 145.8,430.9 146.5,431.6 147.2,432.4 148.0,433.1 148.8,433.9 149.5,434.7 150.2,435.4 151.0,436.2 151.8,436.9 152.5,437.6 153.2,438.3 154.0,439.0 154.8,439.6 155.5,440.3 156.2,441.0 157.0,441.7 157.8,442.4 158.5,443.0 159.2,443.7 160.0,444.4 160.8,445.1 161.5,445.9 162.2,446.6 163.0,447.5 163.8,448.3 164.5,449.2 165.2,450.1 166.0,451.0 166.8,452.1 167.5,453.1 168.2,454.3 169.0,455.6 169.8,457.0 170.5,458.7 171.2,460.5 172.0,462.4 172.8,464.5 173.5,466.7 174.2,468.9 175.0,471.2 175.8,473.6 176.5,476.0 177.2,478.5 178.0,481.2 178.8,484.0 179.5,486.8 180.2,489.8 181.0,492.7 181.8,495.7 182.5,498.7 183.2,501.8 184.0,505.0 184.8,508.2 185.5,511.6 186.2,514.9 187.0,518.2 187.8,521.5 188.5,524.7 189.2,527.8 190.0,531.0 190.8,534.1 191.5,537.2 192.2,540.3 193.0,543.4 193.8,546.3 194.5,549.2 195.2,551.9 196.0,554.5 196.8,557.1 197.5,559.6 198.2,562.1 199.0,564.4 199.8,566.7 200.5,568.9 201.2,570.9 202.0,572.7 202.8,574.4 203.5,575.9 204.2,577.4 205.0,578.7 205.8,580.0 206.5,581.0 207.2,581.9 208.0,582.8 208.8,583.5 209.5,584.2 210.2,584.8 210.8,585.1 211.6,585.0 212.4,584.8 213.2,584.5 214.0,584.0 214.8,583.4 215.6,582.7 216.5,581.9 217.3,580.9 218.1,579.8 218.9,578.6 219.7,577.3 220.5,575.8 221.3,574.3 222.1,572.7 222.9,570.9 223.7,569.1 224.5,567.1 225.3,565.1 226.2,563.0 227.0,560.8 227.8,558.6 228.6,556.3 229.4,553.9 230.2,551.4 231.0,548.9 231.8,546.3 232.6,543.7 233.4,541.1 234.2,538.4 235.0,535.7 235.8,532.9 236.7,530.2 237.5,527.4 238.3,524.6 239.1,521.8 239.9,519.0 240.7,516.2 241.5,513.4 242.3,510.6 243.1,507.9 243.9,505.1 244.7,502.4 245.5,499.8 246.4,497.1 247.2,494.5 248.0,492.0 248.8,489.5 249.6,487.0 250.4,484.6 251.2,482.3 252.0,480.0 252.8,477.8 253.6,475.7 254.4,473.7 255.2,471.7 256.0,469.8 256.9,468.0 257.7,466.3 258.5,464.6 259.3,463.1 260.1,461.6 260.9,460.3 261.7,459.0 262.5,457.8 263.3,456.8 264.1,455.8 264.9,454.9 265.7,454.2 266.6,453.5 267.4,453.0 268.2,452.5 269.0,452.1 269.8,451.9 270.6,451.7 271.4,451.7 272.2,451.7 273.0,451.9 273.8,452.1 274.6,452.4 275.5,452.8 276.3,453.3 277.1,453.9 277.9,454.6 278.7,455.3 279.5,456.2 280.3,457.1 281.1,458.1 282.0,459.1 282.8,460.3 283.6,461.5 284.4,462.7 285.2,464.1 286.0,465.4 286.8,466.9 287.6,468.4 288.4,470.0 289.3,471.6 290.1,473.2 290.9,474.9 291.7,476.7 292.5,478.4 293.3,480.2 294.1,482.1 294.9,483.9 295.8,485.8 296.6,487.7 297.4,489.6 298.2,491.6 299.0,493.5 299.8,495.4 300.6,497.4 301.4,499.3 302.2,501.3 303.1,503.2 303.9,505.1 304.7,507.0 305.5,508.9 306.3,510.8 307.1,512.7 307.9,514.5 308.7,516.3 309.6,518.0 310.4,519.8 311.2,521.4 312.0,523.1 312.8,524.7 313.6,526.3 314.4,527.8 315.2,529.2 316.0,530.6 316.9,532.0 317.7,533.3 318.5,534.5 319.3,535.7 320.1,536.8 320.9,537.9 321.7,538.9 322.5,539.8 323.4,540.7 324.2,541.5 325.0,542.2 325.8,542.9 326.6,543.5 327.4,544.0 328.2,544.4 329.0,544.8 329.8,545.1 330.7,545.4 331.5,545.6 332.3,545.7 333.1,545.7 333.9,545.7 334.7,545.6 335.5,545.4 336.3,545.2 337.1,544.9 337.9,544.5 338.7,544.1 339.5,543.6 340.3,543.1 341.1,542.5 341.9,541.8 342.7,541.1 343.5,540.3 344.3,539.5 345.1,538.7 345.9,537.7 346.8,536.8 347.6,535.8 348.4,534.7 349.2,533.6 350.0,532.5 350.8,531.3 351.6,530.1 352.4,528.9 353.2,527.7 354.0,526.4 354.8,525.1 355.6,523.7 356.4,522.4 357.2,521.0 358.0,519.6 358.8,518.2 359.6,516.8 360.4,515.4 361.2,514.0 362.0,512.6 362.8,511.2 363.6,509.7 364.4,508.3 365.2,506.9 366.0,505.5 366.8,504.1 367.6,502.8 368.4,501.4 369.2,500.1 370.0,498.7 370.8,497.4 371.6,496.2 372.5,494.9 373.3,493.7 374.1,492.5 374.9,491.3 375.7,490.2 376.5,489.1 377.3,488.1 378.1,487.0 378.9,486.1 379.7,485.1 380.5,484.2 381.3,483.4 382.1,482.6 382.9,481.8 383.7,481.1 384.5,480.4 385.3,479.8 386.1,479.2 386.9,478.7 387.7,478.2 388.5,477.8 389.3,477.4 390.1,477.1 390.9,476.8 391.7,476.6 392.5,476.4 393.3,476.3 394.1,476.2 394.9,476.2 395.8,476.2 396.6,476.3 397.4,476.4 398.2,476.6 399.0,476.8 399.8,477.1 400.6,477.4 401.4,477.7 402.2,478.1 403.1,478.6 403.9,479.0 404.7,479.6 405.5,480.1 406.3,480.7 407.1,481.4 407.9,482.0 408.7,482.7 409.5,483.5 410.3,484.3 411.2,485.1 412.0,485.9 412.8,486.7 413.6,487.6 414.4,488.5 415.2,489.5 416.0,490.4 416.8,491.4 417.6,492.3 418.5,493.3 419.3,494.3 420.1,495.4 420.9,496.4 421.7,497.4 422.5,498.5 423.3,499.5 424.1,500.5 424.9,501.6 425.8,502.6 426.6,503.7 427.4,504.7 428.2,505.7 429.0,506.8 429.8,507.8 430.6,508.8 431.4,509.8 432.2,510.7 433.1,511.7 433.9,512.6 434.7,513.5 435.5,514.4 436.3,515.3 437.1,516.2 437.9,517.0 438.7,517.8 439.5,518.6 440.3,519.3 441.2,520.0 442.0,520.7 442.8,521.4 443.6,522.0 444.4,522.6 445.2,523.2 446.0,523.7 446.8,524.2 447.6,524.6 448.5,525.1 449.3,525.4 450.1,525.8 450.9,526.1 451.7,526.4 452.5,526.6 453.3,526.8 454.1,527.0 454.9,527.1 455.8,527.2 456.6,527.3 457.4,527.3 458.2,527.3 459.0,527.2 459.8,527.1 460.6,527.0 461.4,526.8 462.2,526.6 463.0,526.4 463.8,526.1 464.6,525.8 465.4,525.5 466.2,525.1 467.0,524.7 467.9,524.3 468.7,523.8 469.5,523.4 470.3,522.9 471.1,522.3 471.9,521.8 472.7,521.2 473.5,520.6 474.3,519.9 475.1,519.3 475.9,518.6 476.7,518.0 477.5,517.3 478.3,516.5 479.1,515.8 479.9,515.1 480.7,514.3 481.6,513.6 482.4,512.8 483.2,512.0 484.0,511.3 484.8,510.5 485.6,509.7 486.4,508.9 487.2,508.1 488.0,507.4 488.8,506.6 489.6,505.8 490.4,505.0 491.2,504.3 492.0,503.5 492.8,502.8 493.6,502.0 494.5,501.3 495.3,500.6 496.1,499.9 496.9,499.2 497.7,498.6 498.5,497.9 499.3,497.3 500.1,496.7 500.9,496.1 501.7,495.6 502.5,495.0 503.3,494.5 504.1,494.0 504.9,493.5 505.7,493.1 506.5,492.6 507.3,492.2 508.2,491.9 509.0,491.5 509.8,491.2 510.6,490.9 511.4,490.6 512.2,490.4 513.0,490.2 513.8,490.0 514.6,489.8 515.4,489.7 516.2,489.6 517.0,489.5 517.8,489.5 518.6,489.5 519.4,489.5 520.2,489.5 521.0,489.6 521.8,489.7 522.7,489.8 523.5,489.9 524.3,490.1 525.1,490.3 525.9,490.5 526.7,490.7 527.5,491.0 528.3,491.2 529.1,491.5 529.9,491.8 530.7,492.2 531.5,492.5 532.3,492.9 533.1,493.3 533.9,493.7 534.7,494.1 535.5,494.5 536.3,495.0 537.1,495.4 537.9,495.9 538.7,496.4 539.5,496.9 540.3,497.4 541.1,497.9 542.0,498.4 542.8,498.9 543.6,499.5 544.4,500.0 545.2,500.5 546.0,501.1 546.8,501.6 547.6,502.2 548.4,502.7 549.2,503.3 550.0,503.8 550.8,504.3 551.6,504.9 552.4,505.4 553.2,506.0 554.0,506.5 554.8,507.0 555.6,507.5 556.4,508.0 557.2,508.5 558.0,509.0 558.8,509.5 559.6,509.9 560.5,510.4 561.3,510.8 562.1,511.3 562.9,511.7 563.7,512.1 564.5,512.5 565.3,512.9 566.1,513.2 566.9,513.6 567.7,513.9 568.5,514.2 569.3,514.5 570.1,514.7 570.9,515.0 571.7,515.2 572.5,515.5 573.3,515.7 574.1,515.8 574.9,516.0 575.7,516.1 576.5,516.3 577.3,516.4 578.1,516.5 578.9,516.5 579.8,516.6 580.6,516.6 581.4,516.6 582.2,516.6 583.0,516.6 583.8,516.5 584.6,516.5 585.4,516.4 586.2,516.3 587.0,516.1 587.8,516.0 588.6,515.8 589.4,515.7 590.2,515.5 591.0,515.3 591.9,515.0 592.7,514.8 593.5,514.5 594.3,514.3 595.1,514.0 595.9,513.7 596.7,513.4 597.5,513.1 598.3,512.7 599.1,512.4 599.9,512.0 600.7,511.7 601.5,511.3 602.3,510.9 603.1,510.6 604.0,510.2 604.8,509.8 605.6,509.4 606.4,509.0 607.2,508.6 608.0,508.2 608.8,507.7 609.6,507.3 610.4,506.9 611.2,506.5 612.0,506.1 612.8,505.7 613.6,505.3 614.4,504.9 615.3,504.5 616.1,504.1 616.9,503.7 617.7,503.3 618.5,503.0 619.3,502.6 620.1,502.2 620.9,501.9 621.7,501.6 622.5,501.2 623.3,500.9 624.1,500.6 624.9,500.3 625.7,500.0 626.5,499.7 627.4,499.5 628.2,499.2 629.0,499.0 629.8,498.7 630.6,498.5 631.4,498.3 632.2,498.1 633.0,498.0 633.8,497.8 634.6,497.7 635.4,497.5 636.2,497.4 637.0,497.3 637.8,497.3 638.7,497.2 639.5,497.1 640.3,497.1 641.1,497.1 641.9,497.1 642.7,497.1 643.5,497.1 644.3,497.1 645.1,497.2 645.9,497.2 646.7,497.3 647.6,497.4 648.4,497.5 649.2,497.6 650.0,497.7 650.8,497.9 651.6,498.0 652.4,498.2 653.2,498.3 654.0,498.5 654.9,498.7 655.7,498.9 656.5,499.1 657.3,499.3 658.1,499.6 658.9,499.8 659.7,500.0 660.5,500.3 661.3,500.5 662.2,500.8 663.0,501.1 663.8,501.3 664.6,501.6 665.4,501.9 666.2,502.2 667.0,502.4 667.8,502.7 668.6,503.0 669.4,503.3 670.3,503.6 671.1,503.9 671.9,504.2 672.7,504.5 673.5,504.8 674.3,505.1 675.1,505.3 675.9,505.6 676.7,505.9 677.6,506.2 678.4,506.5 679.2,506.7 680.0,507.0 680.8,507.3 681.6,507.5 682.4,507.8 683.2,508.0 684.0,508.3 684.9,508.5 685.7,508.7 686.5,508.9 687.3,509.2 688.1,509.4 688.9,509.5 689.7,509.7 690.5,509.9 691.3,510.1 692.2,510.2 693.0,510.4 693.8,510.5 694.6,510.6 695.4,510.8 696.2,510.9 697.0,511.0 697.8,511.1 698.6,511.1 699.4,511.2 700.3,511.3 701.1,511.3 701.9,511.3 702.7,511.4 703.5,511.4 704.3,511.4 705.1,511.4 705.9,511.4 706.7,511.3 707.5,511.3 708.3,511.3 709.1,511.2 709.9,511.1 710.7,511.1 711.5,511.0 712.3,510.9 713.1,510.8 714.0,510.7 714.8,510.6 715.6,510.5 716.4,510.3 717.2,510.2 718.0,510.1 718.8,509.9 719.6,509.8 720.4,509.6 721.2,509.4 722.0,509.3 722.8,509.1 723.6,508.9 724.4,508.7 725.2,508.5 726.0,508.3 726.8,508.1 727.6,507.9 728.4,507.7 729.2,507.5 730.0,507.3 730.8,507.1 731.6,506.9 732.4,506.7 733.2,506.5 734.0,506.3 734.8,506.1 735.6,505.8 736.4,505.6 737.2,505.4 738.0,505.2 738.9,505.0 739.7,504.8 740.5,504.6 741.3,504.4 742.1,504.2 742.9,504.0 743.7,503.9 744.5,503.7 745.3,503.5 746.1,503.3 746.9,503.2 747.7,503.0 748.5,502.8 749.3,502.7 750.1,502.6 750.9,502.4 751.7,502.3 752.5,502.2 753.3,502.0 754.1,501.9 754.9,501.8 755.7,501.7 756.5,501.6 757.3,501.5 758.1,501.5 758.9,501.4 759.7,501.3 760.5,501.3 761.3,501.2 762.1,501.2 762.9,501.1 763.7,501.1 764.6,501.1 765.4,501.1 766.2,501.1 767.0,501.1 767.8,501.1 768.6,501.1 769.4,501.1 770.2,501.2 771.0,501.2 771.8,501.3 772.6,501.3 773.4,501.4 774.2,501.4 775.0,501.5 775.8,501.6 776.6,501.7 777.4,501.8 778.2,501.9 779.0,502.0 779.8,502.1 780.6,502.2 781.4,502.3 782.2,502.4 783.0,502.5 783.8,502.7 784.6,502.8 785.4,502.9 786.2,503.1 787.0,503.2 787.8,503.3 788.6,503.5 789.5,503.6 790.3,503.8 791.1,503.9 791.9,504.1 792.7,504.3 793.5,504.4 794.3,504.6 795.1,504.7 795.9,504.9 796.7,505.0 797.5,505.2 798.3,505.3 799.1,505.5 799.9,505.6 800.7,505.8 801.5,505.9 802.3,506.1 803.1,506.2 803.9,506.4 804.7,506.5 805.5,506.7 806.3,506.8 807.1,506.9 807.9,507.0 808.7,507.2 809.5,507.3 810.3,507.4 811.1,507.5 811.9,507.6 812.7,507.7 813.5,507.8 814.3,507.9 815.2,508.0 816.0,508.1 816.8,508.2 817.6,508.2 818.4,508.3 819.2,508.4 820.0,508.4 820.8,508.5 821.6,508.5 822.4,508.6 823.2,508.6 824.0,508.6 824.8,508.7 825.6,508.7 826.4,508.7 827.2,508.7 828.0,508.7 828.8,508.7 829.6,508.7 830.4,508.7 831.2,508.7 832.0,508.6 832.8,508.6 833.6,508.6 834.4,508.5 835.2,508.5 836.0,508.4 836.8,508.4 837.6,508.3 838.4,508.3 839.2,508.2 840.1,508.1 840.9,508.1 841.7,508.0 842.5,507.9 843.3,507.8 844.1,507.7 844.9,507.6 845.7,507.5 846.5,507.4 847.3,507.3 848.1,507.2 848.9,507.1 849.7,507.0 850.5,506.9 851.3,506.8 852.1,506.7 852.9,506.6 853.7,506.5 854.5,506.4 855.3,506.3 856.1,506.1 856.9,506.0 857.7,505.9 858.5,505.8 859.3,505.7 860.1,505.6 860.9,505.4 861.7,505.3 862.5,505.2 863.3,505.1 864.1,505.0 865.0,504.9 865.8,504.8 866.6,504.7 867.4,504.6 868.2,504.5 869.0,504.4 869.8,504.3 870.6,504.2 871.4,504.1 872.2,504.0 873.0,503.9 873.8,503.9 874.6,503.8 875.4,503.7 876.2,503.7 877.0,503.6 877.8,503.5 878.6,503.5 879.4,503.4 880.2,503.4 881.0,503.3 881.8,503.3 882.6,503.2 883.4,503.2 884.2,503.2 885.0,503.1 885.8,503.1 886.6,503.1 887.4,503.1 888.2,503.1 889.0,503.1 889.8,503.1 890.7,503.1 891.5,503.1 892.3,503.1 893.1,503.1 893.9,503.1 894.7,503.1 895.5,503.2 896.3,503.2 897.1,503.2 897.9,503.3 898.7,503.3 899.5,503.3 900.3,503.4 901.1,503.4 901.9,503.5 902.7,503.5 903.5,503.6 904.3,503.7 905.1,503.7 905.9,503.8 906.7,503.9 907.5,503.9 908.3,504.0 909.1,504.1 909.9,504.2 910.7,504.2 911.5,504.3 912.3,504.4 913.1,504.5 913.9,504.6 914.7,504.6 915.6,504.7 916.4,504.8 917.2,504.9 918.0,505.0 918.8,505.1 919.6,505.1 920.4,505.2 921.2,505.3 922.0,505.4 922.8,505.5 923.6,505.6 924.4,505.6 925.2,505.7 926.0,505.8 926.8,505.9 927.6,506.0 928.4,506.0 929.2,506.1 930.0,506.2 930.8,506.3 931.6,506.3 932.4,506.4 933.2,506.5 934.0,506.5 934.8,506.6 935.6,506.6 936.4,506.7 937.2,506.8 938.0,506.8 938.8,506.9 939.6,506.9 940.4,506.9 941.3,507.0 942.1,507.0 942.9,507.1 943.7,507.1 944.5,507.1 945.3,507.1 946.1,507.2 946.9,507.2 947.7,507.2 948.5,507.2 949.3,507.2 950.1,507.2 950.9,507.2 951.7,507.2 952.5,507.2 953.3,507.2 954.1,507.2 954.9,507.2 955.7,507.2 956.5,507.2 957.3,507.2 958.1,507.1 958.9,507.1 959.7,507.1 960.5,507.1 961.3,507.0 962.1,507.0 962.9,507.0 963.7,506.9 964.5,506.9 965.3,506.8 966.2,506.8 967.0,506.8 967.8,506.7 968.6,506.7 969.4,506.6 970.2,506.6 971.0,506.5 971.8,506.4 972.6,506.4 973.4,506.3 974.2,506.3 975.0,506.2 975.8,506.1 976.6,506.1 977.4,506.0 978.2,506.0 979.0,505.9 979.8,505.8 980.6,505.8 981.4,505.7 982.2,505.6 983.0,505.6 983.5,505.5" fill="none" stroke="#0000ff" stroke-width="1.3" stroke-linejoin="round"/>
</g>
<g>
<rect x="100.0" y="41.2" width="883.5" height="696.4" fill="none" stroke="#000" stroke-width="1.3"/>
<path d="M247.2,737.6v-9.2M247.2,41.2v9.2M394.5,737.6v-9.2M394.5,41.2v9.2M541.8,737.6v-9.2M541.8,41.2v9.2M689.0,737.6v-9.2M689.0,41.2v9.2M836.2,737.6v-9.2M836.2,41.2v9.2M100.0,118.6h9.2M983.5,118.6h-9.2M100.0,196.0h9.2M983.5,196.0h-9.2M100.0,273.3h9.2M983.5,273.3h-9.2M100.0,350.7h9.2M983.5,350.7h-9.2M100.0,428.1h9.2M983.5,428.1h-9.2M100.0,505.5h9.2M983.5,505.5h-9.2M100.0,582.8h9.2M983.5,582.8h-9.2M100.0,660.2h9.2M983.5,660.2h-9.2" stroke="#000" stroke-width="1.3" fill="none"/>
</g>
<g>
<text x="92.4" y="51.4" text-anchor="end">1.2</text>
<text x="92.4" y="128.8" text-anchor="end">1</text>
<text x="92.4" y="206.2" text-anchor="end">0.8</text>
<text x="92.4" y="283.5" text-anchor="end">0.6</text>
<text x="92.4" y="360.9" text-anchor="end">0.4</text>
<text x="92.4" y="438.3" text-anchor="end">0.2</text>
<text x="92.4" y="515.7" text-anchor="end">0</text>
<text x="92.4" y="593.0" text-anchor="end">−0.2</text>
<text x="92.4" y="670.4" text-anchor="end">−0.4</text>
<text x="92.4" y="747.8" text-anchor="end">−0.6</text>
<text x="100.0" y="770.1" text-anchor="middle">0</text>
<text x="247.2" y="770.1" text-anchor="middle">10</text>
<text x="394.5" y="770.1" text-anchor="middle">20</text>
<text x="541.8" y="770.1" text-anchor="middle">30</text>
<text x="689.0" y="770.1" text-anchor="middle">40</text>
<text x="836.2" y="770.1" text-anchor="middle">50</text>
<text x="983.5" y="770.1" text-anchor="middle">60</text>
<text x="541.9" y="802.7" text-anchor="middle" style="font-size:27.5px">Time(s)</text>
<text x="542.4" y="19.6" text-anchor="middle" style="font-size:27.1px">Time−delay=0.4252</text>
<text transform="translate(20.6,389.4) rotate(-90)" text-anchor="middle" style="font-size:27.5px">State</text>
<text x="434.6" y="187.5" textLength="159.2" lengthAdjust="spacingAndGlyphs">position state</text>
<text x="459.2" y="419.4" textLength="155.4" lengthAdjust="spacingAndGlyphs">velocity state</text>
</g>
<g>
<path d="M594.9,194.5L674,272" stroke="#000" stroke-width="1.35" fill="none"/>
<path d="M686.9,284.7L674.1,258.0L673.0,271.1L659.4,272.4Z" fill="#000"/>
<path d="M615.2,425.7L681,480.5" stroke="#000" stroke-width="1.35" fill="none"/>
<path d="M694.9,492.4L680.3,466.2L680.0,479.7L666.7,482.3Z" fill="#000"/>
</g>
</svg>
</body></html>
